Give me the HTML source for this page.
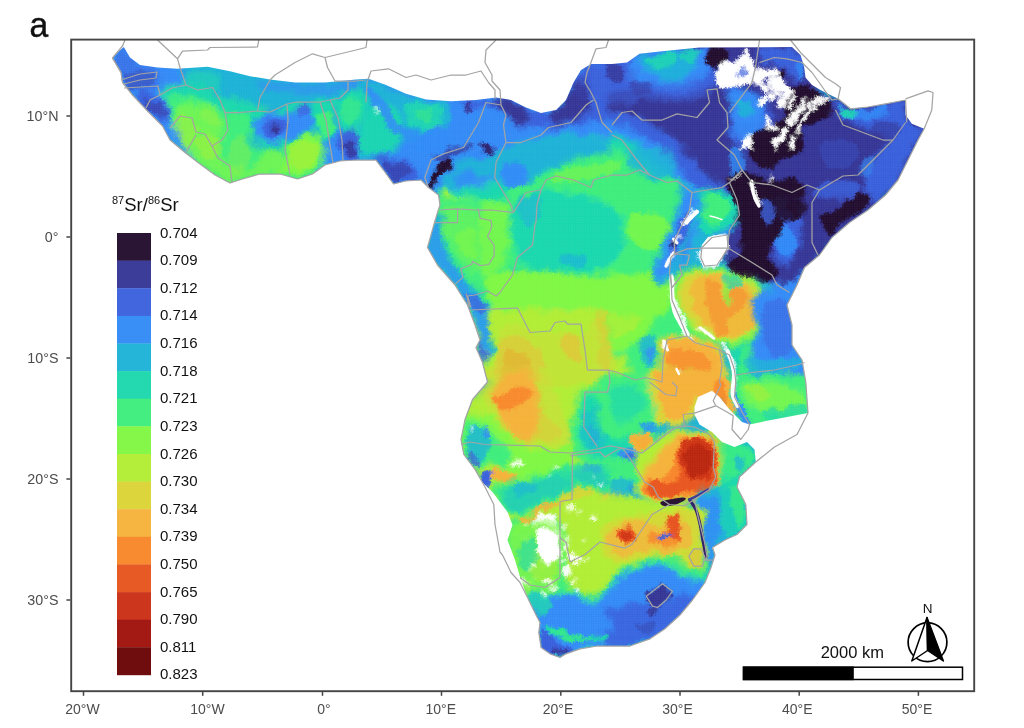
<!DOCTYPE html>
<html><head><meta charset="utf-8"><title>Sr isoscape</title>
<style>
html,body{margin:0;padding:0;background:#fff;}
body{width:1024px;height:728px;overflow:hidden;font-family:"Liberation Sans",sans-serif;}
svg{display:block;font-family:"Liberation Sans",sans-serif;}
</style></head><body>
<svg width="1024" height="728" viewBox="0 0 1024 728">
<defs>
<clipPath id="land"><path d="M112.5 58 L118 52 L123.8 47 L130 57.5 L140 65 L157.5 67.5 L177.5 68.8 L207.5 66.8 L230 71.2 L250 76.2 L270 79.5 L295 82.5 L325 82.5 L356 79.5 L368.5 78.8 L386 85 L406 93.8 L426 99.5 L451 101.2 L476 100 L496 97.5 L511 100 L526 107.5 L541 113 L556 110 L566 100 L573.5 82.5 L581 70 L591 64 L612 64 L627 62.5 L639.5 53.8 L662 51.2 L699.5 47.5 L792 47 L800.5 55 L804 66 L805.5 77.5 L812 85 L820.5 90 L838 98.8 L850.5 108.8 L868 107 L885.5 103.8 L905.5 100 L905.5 115 L911.8 123.8 L924.2 128.8 L918 140 L908 160 L898 180 L885.5 195 L868 210 L849.5 222.5 L832 237.5 L819.5 255 L804.5 267.5 L797 285 L787 305 L792 325 L792 345 L802 360 L805.8 382 L808 413 L787 417 L767 420.8 L749.5 424.5 L742 422 L729.5 409.5 L719.5 397 L712 390.8 L698 397 L694.5 407 L694.5 414.5 L699.5 424.5 L712 432 L722 442 L734.5 447 L747 442 L754.5 449.5 L755.8 462 L739.5 477 L737 487 L745.8 504.5 L747 524.5 L737 534.5 L725 540 L712.5 547.5 L715 555 L711 567.5 L705 582.5 L692.5 600 L680 615 L665 628.8 L650 638.8 L630 646 L615 646 L597.5 646 L580 648.8 L566 653.8 L560 657.5 L550 653.8 L541 647.5 L538.8 632.5 L540 622.5 L536 615 L527.5 597.5 L521 580 L515 560 L507.5 540 L512.5 525 L507.5 512 L492.5 492 L483 483 L475 469.5 L463.8 454.5 L461 439.5 L465 419.5 L472.5 399.5 L487.5 382 L482.5 362.5 L476 347.5 L480 340 L475 325 L467.5 305 L455 285 L437.5 265 L427.5 247.5 L433.8 225 L437.5 212.5 L440 205 L438.5 195 L428.5 187.5 L421 180 L406 181 L393.5 184 L383.5 170 L376 160 L356 160 L340 161 L325 165 L312.5 174 L297.5 179 L280 174 L260 174 L242.5 179 L230 183 L215 175 L200 164 L185 152.5 L170 140 L162.5 126 L147.5 111 L132.5 95 L122.5 82.5 L121 72.5Z"/></clipPath>
<clipPath id="frame"><rect x="71.2" y="39.6" width="903" height="651.6"/></clipPath>
<filter id="b1" x="-20%" y="-20%" width="140%" height="140%"><feGaussianBlur stdDeviation="5"/></filter>
<filter id="b2" x="-20%" y="-20%" width="140%" height="140%"><feGaussianBlur stdDeviation="2.5"/></filter>
<filter id="b3" x="-20%" y="-20%" width="140%" height="140%"><feGaussianBlur stdDeviation="1.1"/></filter>
<filter id="rough" x="0" y="0" width="100%" height="100%" filterUnits="userSpaceOnUse"><feTurbulence type="fractalNoise" baseFrequency="0.08" numOctaves="4" seed="7" result="n"/><feDisplacementMap in="SourceGraphic" in2="n" scale="11" xChannelSelector="R" yChannelSelector="G" result="d1"/><feTurbulence type="fractalNoise" baseFrequency="0.45" numOctaves="2" seed="3" result="n2"/><feDisplacementMap in="d1" in2="n2" scale="5" xChannelSelector="G" yChannelSelector="R"/></filter>
<pattern id="grid" width="2.3" height="2.3" patternUnits="userSpaceOnUse"><path d="M0 0.3H2.3M0.3 0V2.3" stroke="#f3f3f6" stroke-width="0.7" fill="none"/></pattern>
</defs>
<rect width="1024" height="728" fill="#fff"/>
<g clip-path="url(#frame)">
<g clip-path="url(#land)">
<rect x="100" y="40" width="840" height="630" fill="#25b5d8"/>
<g filter="url(#rough)"><g filter="url(#b1)"><path fill="#3a8ff7" d="M105 50 C107.5 42.5 117.5 37.5 130 40 C142.5 42.5 170.8 57 180 65 C189.2 73 187 83 185 88 C183 93 171.2 90 168 95 C164.8 100 164.3 110.5 166 118 C167.7 125.5 178.2 135.5 178 140 C177.8 144.5 171.3 149.7 165 145 C158.7 140.3 148.3 122 140 112 C131.7 102 120.8 95.3 115 85 C109.2 74.7 102.5 57.5 105 50Z"/><path fill="#45ee80" d="M167.5 88 C170.8 85.5 178.8 89.2 185 90 C191.2 90.8 199.2 90.8 205 93 C210.8 95.2 214.2 101 220 103 C225.8 105 233.3 103.8 240 105 C246.7 106.2 254.2 108 260 110 C265.8 112 273.7 114.7 275 117 C276.3 119.3 271.3 122 268 124 C264.7 126 258 126.3 255 129 C252 131.7 248.3 136.8 250 140 C251.7 143.2 259.2 147 265 148 C270.8 149 279.2 147.8 285 146 C290.8 144.2 294.2 139 300 137 C305.8 135 315.7 133 320 134 C324.3 135 325.7 137 326 143 C326.3 149 326.3 163 322 170 C317.7 177 307 183.3 300 185 C293 186.7 286.7 180.8 280 180 C273.3 179.2 266.2 179.2 260 180 C253.8 180.8 247.5 183.3 242.5 185 C237.5 186.7 235.4 191.2 230 190 C224.6 188.8 215.8 182 210 178 C204.2 174 199.7 169.8 195 166 C190.3 162.2 185.5 159.3 182 155 C178.5 150.7 176 145.4 174 140 C172 134.6 171.5 128.3 170 122.5 C168.5 116.7 165.4 110.8 165 105 C164.6 99.2 164.2 90.5 167.5 88Z"/><path fill="#3a8ff7" d="M325 110 C331 100.7 353.3 102.8 360 112 C366.7 121.2 368.3 155.7 365 165 C361.7 174.3 346.8 167.5 340 168 C333.2 168.5 326.5 177.7 324 168 C321.5 158.3 319 119.3 325 110Z"/><path fill="#3a8ff7" d="M356 75 C366.7 73.7 396 89.2 420 92 C444 94.8 476.7 89.8 500 92 C523.3 94.2 545.8 110.3 560 105 C574.2 99.7 561.7 70.8 585 60 C608.3 49.2 677.5 33.3 700 40 C722.5 46.7 730 87.5 720 100 C710 112.5 660 106.7 640 115 C620 123.3 620 138.3 600 150 C580 161.7 541.7 178.3 520 185 C498.3 191.7 483.3 187.5 470 190 C456.7 192.5 446.7 200 440 200 C433.3 200 436.7 192 430 190 C423.3 188 408.3 192.2 400 188 C391.7 183.8 380 171.3 380 165 C380 158.7 390 152.5 400 150 C410 147.5 432.5 155 440 150 C447.5 145 451.7 128.3 445 120 C438.3 111.7 414.8 103.3 400 100 C385.2 96.7 363.3 104.2 356 100 C348.7 95.8 345.3 76.3 356 75Z"/><path fill="#3c3c99" d="M600 100 C604.2 95.8 623.3 105 640 95 C656.7 85 673.3 49.2 700 40 C726.7 30.8 778.3 30.8 800 40 C821.7 49.2 808.3 85.8 830 95 C851.7 104.2 913.3 88.3 930 95 C946.7 101.7 935 120 930 135 C925 150 911.7 170.5 900 185 C888.3 199.5 872.5 210.3 860 222 C847.5 233.7 835 245.3 825 255 C815 264.7 807.5 274.2 800 280 C792.5 285.8 789.2 290 780 290 C770.8 290 752.5 285.8 745 280 C737.5 274.2 736.7 265.8 735 255 C733.3 244.2 737.5 225.8 735 215 C732.5 204.2 727.5 198.3 720 190 C712.5 181.7 700.8 174.2 690 165 C679.2 155.8 667.5 142.5 655 135 C642.5 127.5 624.2 125.8 615 120 C605.8 114.2 595.8 104.2 600 100Z"/><path fill="#24d9b0" d="M440 195 C448.3 184.2 466.7 188.3 480 185 C493.3 181.7 504.2 180.8 520 175 C535.8 169.2 559.7 156.2 575 150 C590.3 143.8 601.2 138.3 612 138 C622.8 137.7 631.3 141.3 640 148 C648.7 154.7 657.3 168.5 664 178 C670.7 187.5 675.7 194.7 680 205 C684.3 215.3 690 226.7 690 240 C690 253.3 686.7 275 680 285 C673.3 295 663.3 299.2 650 300 C636.7 300.8 618.3 292.5 600 290 C581.7 287.5 560 283.3 540 285 C520 286.7 494.2 299.2 480 300 C465.8 300.8 463.3 298.3 455 290 C446.7 281.7 432.5 265.8 430 250 C427.5 234.2 431.7 205.8 440 195Z"/><path fill="#45ee80" d="M450 270 C456.7 260.8 495 273.3 520 275 C545 276.7 576.7 277.5 600 280 C623.3 282.5 643.3 286.7 660 290 C676.7 293.3 692.5 291.7 700 300 C707.5 308.3 711.7 331.7 705 340 C698.3 348.3 677.5 351.7 660 350 C642.5 348.3 620 335 600 330 C580 325 560 320 540 320 C520 320 495 338.3 480 330 C465 321.7 443.3 279.2 450 270Z"/><path fill="#b4ee3a" d="M470 320 C477 314.2 498.3 310.8 520 310 C541.7 309.2 578.3 311.7 600 315 C621.7 318.3 640 319.2 650 330 C660 340.8 661.7 365 660 380 C658.3 395 650 405 640 420 C630 435 603.3 453.3 600 470 C596.7 486.7 605 511.7 620 520 C635 528.3 676.7 513.3 690 520 C703.3 526.7 706.7 550.8 700 560 C693.3 569.2 666.7 570 650 575 C633.3 580 615 585.8 600 590 C585 594.2 573.3 600 560 600 C546.7 600 530 600 520 590 C510 580 506.7 558.3 500 540 C493.3 521.7 487.5 496.7 480 480 C472.5 463.3 456.7 454.2 455 440 C453.3 425.8 464.2 405 470 395 C475.8 385 488.7 388.3 490 380 C491.3 371.7 481.3 355 478 345 C474.7 335 463 325.8 470 320Z"/><path fill="#3a8ff7" d="M760 275 C765.3 269.2 790.8 260.8 800 265 C809.2 269.2 812.5 279.2 815 300 C817.5 320.8 817.5 374.7 815 390 C812.5 405.3 805 397 800 392 C795 387 790 370.3 785 360 C780 349.7 772.8 340 770 330 C767.2 320 769.7 309.2 768 300 C766.3 290.8 754.7 280.8 760 275Z"/><path fill="#45ee80" d="M735 270 C745.8 271.7 758.3 270 765 280 C771.7 290 770.8 315 775 330 C779.2 345 784.2 360.8 790 370 C795.8 379.2 806.3 376.7 810 385 C813.7 393.3 823.7 413.3 812 420 C800.3 426.7 754.5 429.2 740 425 C725.5 420.8 725.8 407.5 725 395 C724.2 382.5 739.2 358.3 735 350 C730.8 341.7 709.2 353.3 700 345 C690.8 336.7 680 312.5 680 300 C680 287.5 690.8 275 700 270 C709.2 265 724.2 268.3 735 270Z"/><path fill="#3a8ff7" d="M530 605 C534.2 599.7 541.7 599.3 550 598 C558.3 596.7 572.2 596.2 580 597 C587.8 597.8 591.2 604.8 597 603 C602.8 601.2 609.5 591.3 615 586 C620.5 580.7 623.3 575.2 630 571 C636.7 566.8 646.7 563.2 655 561 C663.3 558.8 672.5 561.5 680 558 C687.5 554.5 693.3 549.7 700 540 C706.7 530.3 713.3 510 720 500 C726.7 490 733.3 480 740 480 C746.7 480 756.7 490 760 500 C763.3 510 765 527.5 760 540 C755 552.5 740 562.5 730 575 C720 587.5 711.7 603.3 700 615 C688.3 626.7 676.7 637.5 660 645 C643.3 652.5 620 656.7 600 660 C580 663.3 552.5 670 540 665 C527.5 660 526.7 640 525 630 C523.3 620 525.8 610.3 530 605Z"/></g>
<g filter="url(#b2)"><path fill="#4166dd" fill-opacity="0.55" d="M113.8 57.5 C114.2 52.5 119.8 46.5 123.8 47.5 C127.7 48.5 131.9 60 137.5 63.8 C143.1 67.5 154 66 157.5 70 C161 74 161.2 83.5 158.8 87.5 C156.2 91.5 147.7 93.3 142.5 93.8 C137.3 94.2 131 92.7 127.5 90 C124 87.3 123.5 82.9 121.2 77.5 C119 72.1 113.3 62.5 113.8 57.5Z"/></g>
<g filter="url(#b3)"><path fill="#3c3c99" fill-opacity="0.35" d="M123.8 72.5 C126.5 70.6 135 70.8 140 71.2 C145 71.7 152.1 72.7 153.8 75 C155.4 77.3 154 82.7 150 85 C146 87.3 134.4 89.2 130 88.8 C125.6 88.3 124.8 85.2 123.8 82.5 C122.7 79.8 121 74.4 123.8 72.5Z"/></g>
<g filter="url(#b2)"><path fill="#4166dd" d="M137.5 93.8 C138.3 90.8 147.5 91.5 152.5 93.8 C157.5 96 164.8 102.7 167.5 107.5 C170.2 112.3 170 119.6 168.8 122.5 C167.5 125.4 163.5 126.9 160 125 C156.5 123.1 151.2 116.5 147.5 111.2 C143.8 106 136.7 96.7 137.5 93.8Z"/></g>
<g filter="url(#b3)"><path fill="#3c3c99" fill-opacity="0.5" d="M146.2 101.2 C147.7 100.2 155.5 101.5 158.8 103.8 C162 106 165.7 112.9 165.5 115 C165.3 117.1 160.1 117.1 157.5 116.2 C154.9 115.4 151.9 112.5 150 110 C148.1 107.5 144.8 102.3 146.2 101.2Z"/></g>
<g filter="url(#b2)"><path fill="#3a8ff7" d="M160 122.5 C161.2 121.2 166.2 117.1 170 120 C173.8 122.9 178.8 133.8 182.5 140 C186.2 146.2 192.1 155.2 192.5 157.5 C192.9 159.8 188.8 156.7 185 153.8 C181.2 150.8 173.8 144.4 170 140 C166.2 135.6 164.2 130.4 162.5 127.5 C160.8 124.6 158.8 123.8 160 122.5Z"/><path fill="#24d9b0" fill-opacity="0.6" d="M182.5 73.8 C185.8 71.2 198.8 69.4 205 70 C211.2 70.6 217.9 74.2 220 77.5 C222.1 80.8 220.8 87.9 217.5 90 C214.2 92.1 205.4 90.8 200 90 C194.6 89.2 187.9 87.7 185 85 C182.1 82.3 179.2 76.2 182.5 73.8Z"/><path fill="#24d9b0" d="M166.2 86.2 C169.6 84.4 178.1 85.8 185 86.2 C191.9 86.7 201.2 86.7 207.5 88.8 C213.8 90.8 216.7 96.7 222.5 98.8 C228.3 100.8 235.8 100 242.5 101.2 C249.2 102.5 259.6 104 262.5 106.2 C265.4 108.5 263.8 114 260 115 C256.2 116 246.7 113.3 240 112.5 C233.3 111.7 226.7 112.5 220 110 C213.3 107.5 207.5 100 200 97.5 C192.5 95 180.8 95 175 95 C169.2 95 166.5 99 165 97.5 C163.5 96 162.9 88.1 166.2 86.2Z"/><path fill="#84f748" fill-opacity="0.7" d="M182.5 102.5 C187.5 100.8 198.8 102.9 205 105 C211.2 107.1 216.7 110.4 220 115 C223.3 119.6 225.4 126.7 225 132.5 C224.6 138.3 216.7 144.6 217.5 150 C218.3 155.4 224.6 161.7 230 165 C235.4 168.3 245 171.2 250 170 C255 168.8 255.8 160.8 260 157.5 C264.2 154.2 270.8 150 275 150 C279.2 150 282.5 153.8 285 157.5 C287.5 161.2 291.7 169.6 290 172.5 C288.3 175.4 280 174.6 275 175 C270 175.4 265.4 174.2 260 175 C254.6 175.8 247.5 178.8 242.5 180 C237.5 181.2 234.6 183.3 230 182.5 C225.4 181.7 220 178.1 215 175 C210 171.9 204.8 167.9 200 163.8 C195.2 159.6 190.2 154.8 186.2 150 C182.3 145.2 178.1 140.8 176.2 135 C174.4 129.2 174 120.4 175 115 C176 109.6 177.5 104.2 182.5 102.5Z"/><path fill="#84f748" d="M286.2 147.5 C288.3 142.1 294.8 139.6 300 137.5 C305.2 135.4 313.5 133.8 317.5 135 C321.5 136.2 323.3 140 323.8 145 C324.2 150 322.7 160.2 320 165 C317.3 169.8 311.2 171.7 307.5 173.8 C303.8 175.8 300.8 178.1 297.5 177.5 C294.2 176.9 289.4 175 287.5 170 C285.6 165 284.2 152.9 286.2 147.5Z"/></g>
<g filter="url(#b3)"><path fill="#b4ee3a" fill-opacity="0.35" d="M176.2 117.5 C178.1 114.2 184.2 113.8 187.5 115 C190.8 116.2 195 120.8 196.2 125 C197.5 129.2 196.9 136.2 195 140 C193.1 143.8 188.1 148.3 185 147.5 C181.9 146.7 177.7 140 176.2 135 C174.8 130 174.4 120.8 176.2 117.5Z"/><path fill="#b4ee3a" fill-opacity="0.4" d="M197.5 137.5 C200 135.4 208.3 133.3 212.5 135 C216.7 136.7 221.7 143.8 222.5 147.5 C223.3 151.2 220.4 155.8 217.5 157.5 C214.6 159.2 208.3 159.2 205 157.5 C201.7 155.8 198.8 150.8 197.5 147.5 C196.2 144.2 195 139.6 197.5 137.5Z"/><path fill="#b4ee3a" fill-opacity="0.3" d="M230 140 C232.9 136.2 241.7 135.4 245 137.5 C248.3 139.6 249.6 147.5 250 152.5 C250.4 157.5 250 164.2 247.5 167.5 C245 170.8 238.3 173.8 235 172.5 C231.7 171.2 228.3 165.4 227.5 160 C226.7 154.6 227.1 143.8 230 140Z"/><path fill="#b4ee3a" fill-opacity="0.5" d="M290 150 C292.1 145.8 300.4 143.3 305 142.5 C309.6 141.7 315.4 142.1 317.5 145 C319.6 147.9 319.6 155.8 317.5 160 C315.4 164.2 309.2 168.8 305 170 C300.8 171.2 295 170.8 292.5 167.5 C290 164.2 287.9 154.2 290 150Z"/><path fill="#b4ee3a" fill-opacity="0.25" d="M205 110 C207.9 110 215 112.5 217.5 115 C220 117.5 221.2 123.3 220 125 C218.8 126.7 213.3 126.7 210 125 C206.7 123.3 200.8 117.5 200 115 C199.2 112.5 202.1 110 205 110Z"/><path fill="#24d9b0" d="M250 122.5 C250.8 127.9 259.2 141.2 265 145 C270.8 148.8 279.2 146.7 285 145 C290.8 143.3 295.4 140 300 135 C304.6 130 311.7 120 312.5 115 C313.3 110 308.8 107.1 305 105 C301.2 102.9 295 101.2 290 102.5 C285 103.8 280 110.8 275 112.5 C270 114.2 264.2 110.8 260 112.5 C255.8 114.2 249.2 117.1 250 122.5Z"/></g>
<g filter="url(#b2)"><path fill="#3a8ff7" d="M260 117.5 C263.8 115 270 113.3 275 112.5 C280 111.7 285.8 113.3 290 112.5 C294.2 111.7 296.2 107.5 300 107.5 C303.8 107.5 310 109.6 312.5 112.5 C315 115.4 317.1 121.2 315 125 C312.9 128.8 304.2 132.5 300 135 C295.8 137.5 294.2 138.8 290 140 C285.8 141.2 280 142.9 275 142.5 C270 142.1 263.8 140 260 137.5 C256.2 135 252.5 130.8 252.5 127.5 C252.5 124.2 256.2 120 260 117.5Z"/></g>
<g filter="url(#b3)"><path fill="#4166dd" d="M265 122.5 C267.3 120.2 273.8 117.1 277.5 117.5 C281.2 117.9 286.2 122.1 287.5 125 C288.8 127.9 287.5 132.9 285 135 C282.5 137.1 276 138.1 272.5 137.5 C269 136.9 265 133.8 263.8 131.2 C262.5 128.8 262.7 124.8 265 122.5Z"/><ellipse fill="#3c3c99" cx="275.5" cy="128.5" rx="6" ry="4.5" transform="rotate(20 275.5 128.5)"/><path fill="#4166dd" fill-opacity="0.7" d="M297.5 106.2 C298.8 104.6 305.6 104.8 307.5 106.2 C309.4 107.7 310 113.3 308.8 115 C307.5 116.7 301.9 117.7 300 116.2 C298.1 114.8 296.2 107.9 297.5 106.2Z"/></g>
<g filter="url(#b2)"><path fill="#24d9b0" d="M312.5 102.5 C315.8 98.8 328.8 99.6 335 100 C341.2 100.4 349.2 101.2 350 105 C350.8 108.8 342.9 116.7 340 122.5 C337.1 128.3 335.8 137.5 332.5 140 C329.2 142.5 322.9 140.4 320 137.5 C317.1 134.6 316.2 128.3 315 122.5 C313.8 116.7 309.2 106.2 312.5 102.5Z"/></g>
<g filter="url(#b3)"><path fill="#45ee80" d="M317.5 115 C320 112.1 329.6 110.4 332.5 112.5 C335.4 114.6 336.2 123.3 335 127.5 C333.8 131.7 327.9 137.1 325 137.5 C322.1 137.9 318.8 133.8 317.5 130 C316.2 126.2 315 117.9 317.5 115Z"/></g>
<g filter="url(#b2)"><path fill="#3a8ff7" d="M332.5 110 C335.6 106.2 350.6 102.9 356 105 C361.4 107.1 363.5 113.3 365 122.5 C366.5 131.7 367.5 153.5 365 160 C362.5 166.5 355 161 350 161.2 C345 161.5 338.3 164 335 161.2 C331.7 158.5 329.6 150.6 330 145 C330.4 139.4 337.1 133.3 337.5 127.5 C337.9 121.7 329.4 113.8 332.5 110Z"/><path fill="#4166dd" d="M340 132.5 C342.9 129.6 352.2 126.2 356 127.5 C359.8 128.8 361.8 135 362.5 140 C363.2 145 362.9 154.6 360 157.5 C357.1 160.4 348.5 159.6 345 157.5 C341.5 155.4 339.6 149.2 338.8 145 C337.9 140.8 337.1 135.4 340 132.5Z"/></g>
<g filter="url(#b3)"><path fill="#3c3c99" fill-opacity="0.8" d="M346.2 138.8 C347.7 136 355.4 135.2 357.5 137.5 C359.6 139.8 360.2 149.8 358.8 152.5 C357.3 155.2 350.8 156 348.8 153.8 C346.7 151.5 344.8 141.5 346.2 138.8Z"/></g>
<g filter="url(#b2)"><path fill="#3a8ff7" fill-opacity="0.6" d="M260 80 C264.6 79.2 279.2 83.1 290 83.8 C300.8 84.4 314 84.4 325 83.8 C336 83.1 350.8 79 356 80 C361.2 81 361.2 87.7 356 90 C350.8 92.3 336 93.3 325 93.8 C314 94.2 300.4 93.3 290 92.5 C279.6 91.7 267.5 90.8 262.5 88.8 C257.5 86.7 255.4 80.8 260 80Z"/><path fill="#25b5d8" d="M356 82.5 C359.3 72.1 367.7 85 376 87.5 C384.3 90 395.6 95 406 97.5 C416.4 100 431.8 99.6 438.5 102.5 C445.2 105.4 446 110.4 446 115 C446 119.6 443.1 126.7 438.5 130 C433.9 133.3 424.8 133.3 418.5 135 C412.2 136.7 405.2 137.1 401 140 C396.8 142.9 398.5 150 393.5 152.5 C388.5 155 377.2 155.4 371 155 C364.8 154.6 358.5 162.1 356 150 C353.5 137.9 352.7 92.9 356 82.5Z"/><path fill="#24d9b0" fill-opacity="0.85" d="M356 102.5 C358.5 94.6 365.6 100.8 371 100 C376.4 99.2 382.7 97.1 388.5 97.5 C394.3 97.9 398.9 100.4 406 102.5 C413.1 104.6 425.2 107.1 431 110 C436.8 112.9 441 116.7 441 120 C441 123.3 436 128.8 431 130 C426 131.2 416.4 130 411 127.5 C405.6 125 403.5 117.1 398.5 115 C393.5 112.9 385.6 112.9 381 115 C376.4 117.1 371 123.3 371 127.5 C371 131.7 376.8 137.9 381 140 C385.2 142.1 393.9 138.3 396 140 C398.1 141.7 397.7 147.9 393.5 150 C389.3 152.1 377.2 152.9 371 152.5 C364.8 152.1 358.5 155.8 356 147.5 C353.5 139.2 353.5 110.4 356 102.5Z"/></g>
<g filter="url(#b3)"><path fill="#45ee80" fill-opacity="0.8" d="M356 115 C357.2 110.4 361.8 110.4 363.5 112.5 C365.2 114.6 366.4 122.9 366 127.5 C365.6 132.1 362.7 137.9 361 140 C359.3 142.1 356.8 144.2 356 140 C355.2 135.8 354.8 119.6 356 115Z"/><path fill="#84f748" fill-opacity="0.6" d="M423.5 120 C424.8 118.1 433.5 116.5 436 117.5 C438.5 118.5 439.8 124.4 438.5 126.2 C437.2 128.1 431 129.8 428.5 128.8 C426 127.7 422.2 121.9 423.5 120Z"/></g>
<g filter="url(#b2)"><path fill="#3a8ff7" d="M371 122.5 C373.1 118.8 381 117.5 386 117.5 C391 117.5 396.4 119.6 401 122.5 C405.6 125.4 408.5 133.3 413.5 135 C418.5 136.7 424.8 134.6 431 132.5 C437.2 130.4 443.9 124.2 451 122.5 C458.1 120.8 467.7 125.4 473.5 122.5 C479.3 119.6 482.2 106.2 486 105 C489.8 103.8 492.7 110 496 115 C499.3 120 506 129.2 506 135 C506 140.8 502.2 147.5 496 150 C489.8 152.5 476 148.8 468.5 150 C461 151.2 457.2 155.8 451 157.5 C444.8 159.2 436 157.1 431 160 C426 162.9 425.2 171.7 421 175 C416.8 178.3 412.7 182.9 406 180 C399.3 177.1 388.5 161.2 381 157.5 C373.5 153.8 362.2 160.4 361 157.5 C359.8 154.6 371.8 145.8 373.5 140 C375.2 134.2 368.9 126.2 371 122.5Z"/><path fill="#4166dd" d="M371 158.8 C372.2 156.7 384.3 156.5 391 157.5 C397.7 158.5 406 161.7 411 165 C416 168.3 421.8 174.6 421 177.5 C420.2 180.4 410.6 181.2 406 182.5 C401.4 183.8 397.2 187.1 393.5 185 C389.8 182.9 387.2 174.4 383.5 170 C379.8 165.6 369.8 160.8 371 158.8Z"/></g>
<g filter="url(#b3)"><path fill="#3c3c99" fill-opacity="0.55" d="M383.5 162.5 C385.4 160.8 394.1 161 398.5 162.5 C402.9 164 408.9 168.3 409.8 171.2 C410.6 174.2 406.2 178.1 403.5 180 C400.8 181.9 396.2 183.8 393.5 182.5 C390.8 181.2 388.9 175.8 387.2 172.5 C385.6 169.2 381.6 164.2 383.5 162.5Z"/></g>
<g filter="url(#b2)"><path fill="#25b5d8" d="M438.5 190 C441.8 183.3 453.1 165.4 461 160 C468.9 154.6 478.5 159.6 486 157.5 C493.5 155.4 498.5 150.4 506 147.5 C513.5 144.6 521.8 142.5 531 140 C540.2 137.5 552.7 133.3 561 132.5 C569.3 131.7 572.5 133.8 581 135 C589.5 136.2 606.8 135 612 140 C617.2 145 617.2 160.8 612 165 C606.8 169.2 590.3 164.2 581 165 C571.7 165.8 564.3 167.5 556 170 C547.7 172.5 537.7 176.7 531 180 C524.3 183.3 521.8 190 516 190 C510.2 190 502.7 182.5 496 180 C489.3 177.5 481.8 174.2 476 175 C470.2 175.8 465.2 182.5 461 185 C456.8 187.5 454.3 187.5 451 190 C447.7 192.5 443.1 200 441 200 C438.9 200 435.2 196.7 438.5 190Z"/><path fill="#3a8ff7" fill-opacity="0.8" d="M453.5 175 C454.3 172.5 462.2 170 466 170 C469.8 170 474.8 172.7 476 175 C477.2 177.3 476 182.1 473.5 183.8 C471 185.4 464.3 186.5 461 185 C457.7 183.5 452.7 177.5 453.5 175Z"/><path fill="#3a8ff7" fill-opacity="0.9" d="M503.5 167.5 C505.6 164.8 512.2 162.9 516 163.8 C519.8 164.6 524.8 169 526 172.5 C527.2 176 526 182.5 523.5 185 C521 187.5 514.3 188.3 511 187.5 C507.7 186.7 504.8 183.3 503.5 180 C502.2 176.7 501.4 170.2 503.5 167.5Z"/><path fill="#4166dd" d="M461 101.2 C464.8 100 477.7 100.4 486 100 C494.3 99.6 502.7 97.1 511 98.8 C519.3 100.4 529.3 107.7 536 110 C542.7 112.3 545.2 115.8 551 112.5 C556.8 109.2 566 97.1 571 90 C576 82.9 576.8 74.4 581 70 C585.2 65.6 590.8 64.8 596 63.8 C601.2 62.7 609.3 55.2 612 63.8 C614.7 72.3 615.5 105.2 612 115 C608.5 124.8 597.8 120.8 591 122.5 C584.2 124.2 577.7 124.2 571 125 C564.3 125.8 557.7 127.1 551 127.5 C544.3 127.9 536.8 127.9 531 127.5 C525.2 127.1 520.2 127.1 516 125 C511.8 122.9 510.2 118.3 506 115 C501.8 111.7 496.4 105.8 491 105 C485.6 104.2 478.1 109.6 473.5 110 C468.9 110.4 465.6 109 463.5 107.5 C461.4 106 457.2 102.5 461 101.2Z"/><path fill="#3c3c99" d="M496 98.8 C497.9 97.7 506 98.1 511 100 C516 101.9 522.7 106.7 526 110 C529.3 113.3 532.2 117.7 531 120 C529.8 122.3 522.7 124.6 518.5 123.8 C514.3 122.9 509.1 117.9 506 115 C502.9 112.1 501.4 109 499.8 106.2 C498.1 103.5 494.1 99.8 496 98.8Z"/><path fill="#3c3c99" d="M551 113.8 C553.1 109.4 564.3 103.1 568.5 97.5 C572.7 91.9 572.7 83.3 576 80 C579.3 76.7 585.6 74.6 588.5 77.5 C591.4 80.4 593.9 91.7 593.5 97.5 C593.1 103.3 590.2 108.3 586 112.5 C581.8 116.7 573.5 120.6 568.5 122.5 C563.5 124.4 558.9 125.2 556 123.8 C553.1 122.3 548.9 118.1 551 113.8Z"/></g>
<g filter="url(#b3)"><path fill="#3c3c99" d="M463.5 103.8 C464.7 103.1 470 104 471 105 C472 106 470.9 109.4 469.8 110 C468.6 110.6 465 109.8 464 108.8 C463 107.7 462.3 104.4 463.5 103.8Z"/><path fill="#2a1535" d="M429 180 C429.6 177.6 431.7 173.5 433.5 171.2 C435.3 169 438.1 168.2 439.8 166.2 C441.4 164.3 441.7 161 443.5 159.5 C445.3 158 449.2 156.8 450.5 157.5 C451.8 158.2 452.2 161.7 451.5 163.8 C450.8 165.8 448 167.9 446.5 170 C445 172.1 443.9 174.6 442.2 176.2 C440.6 177.9 438 178.2 436.5 180 C435 181.8 434.6 186.1 433.5 187 C432.4 187.9 430.5 186.7 429.8 185.5 C429 184.3 428.4 182.4 429 180Z"/><path fill="#3c3c99" fill-opacity="0.7" d="M431 157.5 C431.4 155.8 438.5 151.7 443.5 150 C448.5 148.3 456 148.1 461 147.5 C466 146.9 472.7 145.6 473.5 146.2 C474.3 146.9 469.3 149.8 466 151.2 C462.7 152.7 457.7 153.5 453.5 155 C449.3 156.5 444.8 159.6 441 160 C437.2 160.4 430.6 159.2 431 157.5Z"/><path fill="#2a1535" d="M481 144.5 C482 143.9 488.5 145.3 491 146.2 C493.5 147.2 495.8 148.8 496 150 C496.2 151.2 494.1 153.8 492.2 153.8 C490.4 153.8 486.6 151.5 484.8 150 C482.9 148.5 480 145.1 481 144.5Z"/><path fill="#3c3c99" fill-opacity="0.6" d="M479.8 143.8 C481.2 142.7 489.3 144 492.2 145 C495.2 146 497.2 148.3 497.2 150 C497.2 151.7 494.5 154.8 492.2 155 C490 155.2 485.6 153.1 483.5 151.2 C481.4 149.4 478.3 144.8 479.8 143.8Z"/></g>
<g filter="url(#b2)"><path fill="#24d9b0" d="M441 190 C444.3 185.8 453.5 193.3 461 195 C468.5 196.7 478.5 200.8 486 200 C493.5 199.2 499.3 192.9 506 190 C512.7 187.1 518.5 185.8 526 182.5 C533.5 179.2 541.8 172.9 551 170 C560.2 167.1 570.8 167.1 581 165 C591.2 162.9 606.8 153.3 612 157.5 C617.2 161.7 617.2 184.6 612 190 C606.8 195.4 592 190 581 190 C570 190 554.3 188.3 546 190 C537.7 191.7 536 195.8 531 200 C526 204.2 523.5 211.7 516 215 C508.5 218.3 498.5 219.2 486 220 C473.5 220.8 448.5 225 441 220 C433.5 215 437.7 194.2 441 190Z"/><path fill="#45ee80" d="M506 192.5 C508.5 187.5 523.5 183.3 531 180 C538.5 176.7 543.5 175 551 172.5 C558.5 170 565.8 167.1 576 165 C586.2 162.9 606 150 612 160 C618 170 628.8 214.2 612 225 C595.2 235.8 527 227.5 511 225 C495 222.5 516.8 215.4 516 210 C515.2 204.6 503.5 197.5 506 192.5Z"/><path fill="#84f748" d="M441 192.5 C443.5 187.5 449.3 193.3 456 195 C462.7 196.7 472.7 200.8 481 202.5 C489.3 204.2 500.2 203.3 506 205 C511.8 206.7 515.2 209.2 516 212.5 C516.8 215.8 523.5 222.9 511 225 C498.5 227.1 452.7 230.4 441 225 C429.3 219.6 438.5 197.5 441 192.5Z"/></g>
<g filter="url(#b3)"><path fill="#b4ee3a" fill-opacity="0.6" d="M442.2 195 C443.5 191 449.1 192.9 451 196.2 C452.9 199.6 454.8 211 453.5 215 C452.2 219 445.4 223.3 443.5 220 C441.6 216.7 441 199 442.2 195Z"/></g>
<g filter="url(#b2)"><path fill="#4166dd" d="M612 63.8 C616.6 54.8 624.9 56.5 639.5 53.8 C654.1 51 686.6 48.5 699.5 47.5 C712.4 46.5 714.1 40.4 717 47.5 C719.9 54.6 718.7 80.4 717 90 C715.3 99.6 712 102.5 707 105 C702 107.5 694.5 105.8 687 105 C679.5 104.2 670.3 100 662 100 C653.7 100 645.3 103.8 637 105 C628.7 106.2 616.2 114.4 612 107.5 C607.8 100.6 607.4 72.7 612 63.8Z"/><path fill="#3a8ff7" d="M627 65 C629.1 60.8 630.3 57.7 642 55 C653.7 52.3 686.2 47.1 697 48.8 C707.8 50.4 707.4 59 707 65 C706.6 71 699.9 80.8 694.5 85 C689.1 89.2 682 89.6 674.5 90 C667 90.4 657 89.2 649.5 87.5 C642 85.8 633.2 83.8 629.5 80 C625.8 76.2 624.9 69.2 627 65Z"/><path fill="#25b5d8" fill-opacity="0.9" d="M639.5 57.5 C642.8 55 652.8 53.8 662 52.5 C671.2 51.2 689.1 47.9 694.5 50 C699.9 52.1 696.2 60.4 694.5 65 C692.8 69.6 689.1 74.6 684.5 77.5 C679.9 80.4 672.4 83.3 667 82.5 C661.6 81.7 656.2 75 652 72.5 C647.8 70 644.1 70 642 67.5 C639.9 65 636.2 60 639.5 57.5Z"/></g>
<g filter="url(#b3)"><path fill="#24d9b0" fill-opacity="0.8" d="M647 58.8 C649.1 57.1 657 55.6 662 55 C667 54.4 674.9 53.5 677 55 C679.1 56.5 677.4 61.7 674.5 63.8 C671.6 65.8 663.7 67.3 659.5 67.5 C655.3 67.7 651.6 66.5 649.5 65 C647.4 63.5 644.9 60.4 647 58.8Z"/><path fill="#24d9b0" fill-opacity="0.7" d="M682 52.5 C683.7 50.4 694.1 49.2 697 50 C699.9 50.8 701.2 55.4 699.5 57.5 C697.8 59.6 689.9 63.3 687 62.5 C684.1 61.7 680.3 54.6 682 52.5Z"/><path fill="#4166dd" d="M612 65 C614.1 62.9 622 65.4 624.5 67.5 C627 69.6 629.1 75.4 627 77.5 C624.9 79.6 614.5 82.1 612 80 C609.5 77.9 609.9 67.1 612 65Z"/></g>
<g filter="url(#b2)"><path fill="#3c3c99" d="M607 93.8 C612 89.8 630.3 90.8 642 91.2 C653.7 91.7 666.2 96.9 677 96.2 C687.8 95.6 699.5 89.6 707 87.5 C714.5 85.4 717.8 82.1 722 83.8 C726.2 85.4 730.8 91 732 97.5 C733.2 104 727.8 114.6 729.5 122.5 C731.2 130.4 738.2 137.9 742 145 C745.8 152.1 751.2 159.2 752 165 C752.8 170.8 750.8 176.2 747 180 C743.2 183.8 735.3 187.5 729.5 187.5 C723.7 187.5 717.8 183.8 712 180 C706.2 176.2 700.3 170.8 694.5 165 C688.7 159.2 683.2 150.8 677 145 C670.8 139.2 664.5 134.6 657 130 C649.5 125.4 639.5 120 632 117.5 C624.5 115 616.2 119 612 115 C607.8 111 602 97.7 607 93.8Z"/><path fill="#4166dd" d="M612 112.5 C615.3 110.8 624.5 112.5 632 115 C639.5 117.5 649.5 122.9 657 127.5 C664.5 132.1 670.8 136.7 677 142.5 C683.2 148.3 688.7 156.2 694.5 162.5 C700.3 168.8 706.2 175.4 712 180 C717.8 184.6 727 186.2 729.5 190 C732 193.8 730.8 201.7 727 202.5 C723.2 203.3 713.7 198.8 707 195 C700.3 191.2 693.7 186.2 687 180 C680.3 173.8 673.7 164.2 667 157.5 C660.3 150.8 653.7 145 647 140 C640.3 135 632.8 130 627 127.5 C621.2 125 614.5 127.5 612 125 C609.5 122.5 608.7 114.2 612 112.5Z"/><path fill="#3a8ff7" d="M612 123.8 C614.5 122.7 621.2 123.8 627 126.2 C632.8 128.8 640.3 133.8 647 138.8 C653.7 143.8 660.3 149.6 667 156.2 C673.7 162.9 680.3 172.3 687 178.8 C693.7 185.2 700.3 191 707 195 C713.7 199 723.2 198 727 202.5 C730.8 207 732 218.8 729.5 222 C727 225.2 717.8 225.7 712 222 C706.2 218.3 700.3 207 694.5 200 C688.7 193 683.2 187.1 677 180 C670.8 172.9 663.7 163.8 657 157.5 C650.3 151.2 644.5 146.7 637 142.5 C629.5 138.3 616.2 135.6 612 132.5 C607.8 129.4 609.5 124.8 612 123.8Z"/><path fill="#25b5d8" d="M612 131.2 C616.2 131.5 629.5 137.1 637 141.2 C644.5 145.4 650.3 150 657 156.2 C663.7 162.5 670.8 171.5 677 178.8 C683.2 186 688.7 192.8 694.5 200 C700.3 207.2 711.6 218.3 712 222 C712.4 225.7 702 225.2 697 222 C692 218.8 687.4 209.5 682 202.5 C676.6 195.5 670.3 187.1 664.5 180 C658.7 172.9 653.2 165.8 647 160 C640.8 154.2 632.8 148.3 627 145 C621.2 141.7 614.5 142.3 612 140 C609.5 137.7 607.8 131 612 131.2Z"/><path fill="#24d9b0" d="M612 138.8 C614.5 137.7 621.2 140.4 627 143.8 C632.8 147.1 640.8 152.9 647 158.8 C653.2 164.6 658.7 171.7 664.5 178.8 C670.3 185.8 676.6 194 682 201.2 C687.4 208.5 697 218.5 697 222 C697 225.5 686.6 225.2 682 222 C677.4 218.8 674.5 209.1 669.5 202.5 C664.5 195.9 657.8 188.8 652 182.5 C646.2 176.2 641.2 170.4 634.5 165 C627.8 159.6 615.8 154.4 612 150 C608.2 145.6 609.5 139.8 612 138.8Z"/><path fill="#45ee80" d="M612 148.8 C615.8 139 627.8 158.3 634.5 163.8 C641.2 169.2 646.2 175 652 181.2 C657.8 187.5 664.1 194.5 669.5 201.2 C674.9 208 694.1 218.5 684.5 222 C674.9 225.5 624.1 234.2 612 222 C599.9 209.8 608.2 158.5 612 148.8Z"/><path fill="#4166dd" d="M722 85 C724.1 82.9 735.3 85.4 742 87.5 C748.7 89.6 757 92.9 762 97.5 C767 102.1 771.2 108.8 772 115 C772.8 121.2 770.3 129.6 767 135 C763.7 140.4 757 145.8 752 147.5 C747 149.2 741 148.8 737 145 C733 141.2 729.5 132.5 728.2 125 C727 117.5 730.5 106.7 729.5 100 C728.5 93.3 719.9 87.1 722 85Z"/><path fill="#3a8ff7" fill-opacity="0.85" d="M732 95 C734.5 90.2 742 92.1 747 93.8 C752 95.4 759.1 100.2 762 105 C764.9 109.8 765.8 116.7 764.5 122.5 C763.2 128.3 758.7 137.1 754.5 140 C750.3 142.9 743.2 142.9 739.5 140 C735.8 137.1 733.2 130 732 122.5 C730.8 115 729.5 99.8 732 95Z"/><path fill="#3a8ff7" d="M729.1 91.6 C731.2 88.5 737.7 89.8 741.6 90.1 C745.6 90.3 748.9 91.1 752.6 93.2 C756.2 95.3 762.2 99.2 763.6 102.6 C764.9 106 762.8 110.4 760.4 113.6 C758.1 116.7 753.4 120.6 749.5 121.4 C745.6 122.2 740.3 120.3 736.9 118.2 C733.6 116.2 730.4 113.3 729.1 108.9 C727.8 104.4 727 94.8 729.1 91.6Z"/></g>
<g filter="url(#b3)"><path fill="#25b5d8" fill-opacity="0.9" d="M735.4 102.6 C736.2 100 741.6 98.9 744.8 99.5 C747.9 100 753.1 103.4 754.2 105.7 C755.2 108.1 753.4 112 751 113.6 C748.7 115.1 742.7 116.9 740.1 115.1 C737.5 113.3 734.6 105.2 735.4 102.6Z"/><path fill="#3a8ff7" fill-opacity="0.8" d="M729.5 147.5 C731.6 144.2 739.5 146.2 742 150 C744.5 153.8 745.3 165 744.5 170 C743.7 175 739.5 180 737 180 C734.5 180 730.8 175.4 729.5 170 C728.2 164.6 727.4 150.8 729.5 147.5Z"/></g>
<g filter="url(#b2)"><path fill="#4166dd" d="M758.9 47.8 C763.8 45.3 783.4 46.3 790.2 47 C796.9 47.8 797.2 49.8 799.5 52.5 C801.9 55.3 803.3 59.6 804.2 63.5 C805.2 67.4 805.8 73.1 805 76 C804.2 78.9 802 80.7 799.5 80.7 C797.1 80.7 792.8 78.1 790.2 76 C787.5 73.9 787 70.3 783.9 68.2 C780.8 66.1 775.3 64.5 771.4 63.5 C767.5 62.4 762.5 64.5 760.4 61.9 C758.3 59.3 753.9 50.3 758.9 47.8Z"/></g>
<g filter="url(#b3)"><path fill="#3a8ff7" fill-opacity="0.8" d="M798 63.5 C798.8 61.4 803.1 63 804.2 65 C805.4 67.1 805.8 73.9 805 76 C804.2 78.1 800.7 79.6 799.5 77.6 C798.4 75.5 797.2 65.6 798 63.5Z"/></g>
<g filter="url(#b2)"><path fill="#4166dd" d="M835.5 100 C837.2 99.2 845.1 108.8 850.5 110 C855.9 111.2 862.2 108.4 868 107.5 C873.8 106.6 879.2 105.7 885.5 104.5 C891.8 103.3 902.1 98.8 905.5 100.5 C908.9 102.2 905 111.1 906 115 C907 118.9 908.7 121.5 911.8 123.8 C914.8 126 923.2 126 924.2 128.8 C925.3 131.5 920.7 134.8 918 140 C915.3 145.2 911.3 153.3 908 160 C904.7 166.7 901.8 174.2 898 180 C894.2 185.8 889.7 190.8 885.5 195 C881.3 199.2 876.8 207.5 873 205 C869.2 202.5 863 187.5 863 180 C863 172.5 868.8 166.7 873 160 C877.2 153.3 887.2 144.2 888 140 C888.8 135.8 883 137.5 878 135 C873 132.5 864.2 128.3 858 125 C851.8 121.7 844.2 119.2 840.5 115 C836.8 110.8 833.8 100.8 835.5 100Z"/><path fill="#3c3c99" fill-opacity="0.7" d="M843 122.5 C850.5 123.3 855.9 124.6 863 127.5 C870.1 130.4 883.4 135 885.5 140 C887.6 145 879.7 151.7 875.5 157.5 C871.3 163.3 865.9 171.2 860.5 175 C855.1 178.8 850.1 178.3 843 180 C835.9 181.7 825.1 185 818 185 C810.9 185 803 186.7 800.5 180 C798 173.3 800.1 154.6 803 145 C805.9 135.4 811.3 126.2 818 122.5 C824.7 118.8 835.5 121.7 843 122.5Z"/></g>
<g filter="url(#b3)"><path fill="#3a8ff7" fill-opacity="0.8" d="M838 103.8 C839.2 103.1 845.5 110.4 850.5 111.2 C855.5 112.1 862.6 109.7 868 108.8 C873.4 107.8 879.7 104.9 883 105.5 C886.3 106.1 889.7 110.1 888 112.5 C886.3 114.9 878.4 118.8 873 120 C867.6 121.2 860.5 120.8 855.5 120 C850.5 119.2 845.9 117.7 843 115 C840.1 112.3 836.8 104.4 838 103.8Z"/><path fill="#24d9b0" fill-opacity="0.9" d="M840.5 107.5 C841.8 106.9 847.6 108.8 850.5 110 C853.4 111.2 857.6 113.7 858 115 C858.4 116.3 855.5 118.2 853 118 C850.5 117.8 845.1 115.5 843 113.8 C840.9 112 839.2 108.1 840.5 107.5Z"/><path fill="#4166dd" fill-opacity="0.3" d="M820.5 145 C823.8 141.7 836.8 139.6 843 140 C849.2 140.4 856.3 143.3 858 147.5 C859.7 151.7 857.2 161.2 853 165 C848.8 168.8 838 170.8 833 170 C828 169.2 825.1 164.2 823 160 C820.9 155.8 817.2 148.3 820.5 145Z"/><path fill="#3c3c99" fill-opacity="0.6" d="M875.5 122.5 C880.5 120.4 895.1 119.6 898 122.5 C900.9 125.4 895.9 136.2 893 140 C890.1 143.8 884.7 145.8 880.5 145 C876.3 144.2 868.8 138.8 868 135 C867.2 131.2 870.5 124.6 875.5 122.5Z"/><path fill="#4166dd" fill-opacity="0.8" d="M818 187.5 C822.6 182.5 835.9 179.6 843 180 C850.1 180.4 859.2 185.8 860.5 190 C861.8 194.2 855.5 200.8 850.5 205 C845.5 209.2 836.3 214.2 830.5 215 C824.7 215.8 817.6 214.6 815.5 210 C813.4 205.4 813.4 192.5 818 187.5Z"/><path fill="#3a8ff7" fill-opacity="0.6" d="M863 160 C864.7 156.7 871.8 155 873 157.5 C874.2 160 872.2 171.7 870.5 175 C868.8 178.3 864.2 180 863 177.5 C861.8 175 861.3 163.3 863 160Z"/><path fill="#2a1535" d="M707.2 49.4 C708.9 47.4 713.5 47 716.6 47 C719.7 47 724.6 47.2 726 49.4 C727.4 51.6 726.3 57.2 725.2 60.3 C724.2 63.5 722.2 67.1 719.7 68.2 C717.3 69.2 712.6 68.2 710.3 66.6 C708.1 65 707 61.6 706.4 58.8 C705.9 55.9 705.5 51.3 707.2 49.4Z"/><path fill="#2a1535" d="M775.3 72.1 C776.1 70.8 780.9 70.4 782.3 71.3 C783.8 72.2 784.7 76.3 783.9 77.6 C783.1 78.9 779.1 80 777.6 79.1 C776.2 78.2 774.5 73.4 775.3 72.1Z"/><path fill="#2a1535" d="M787 86.9 C789.4 85 795.9 84.6 799.5 84.6 C803.2 84.6 805 85.4 808.9 86.9 C812.8 88.5 819.2 91.4 823 94 C826.8 96.6 831.1 99.3 831.6 102.6 C832.1 105.9 828.9 110.2 826.2 113.6 C823.4 116.9 818.6 120.6 815.2 122.9 C811.8 125.3 808.7 125.6 805.8 127.6 C802.9 129.7 798.5 132.9 798 135.5 C797.5 138.1 802.4 140.2 802.7 143.3 C802.9 146.4 803.7 152.2 799.5 153.9 C795.4 155.7 784.9 153.9 777.6 153.9 C770.3 153.9 759.9 155.7 755.7 153.9 C751.6 152.2 752.1 146.4 752.6 143.3 C753.1 140.2 755.2 137.8 758.9 135.5 C762.5 133.1 770.3 131.5 774.5 129.2 C778.7 126.9 782.3 124.5 783.9 121.4 C785.5 118.2 783.6 114.6 783.9 110.4 C784.2 106.2 784.9 100.3 785.5 96.3 C786 92.4 784.7 88.9 787 86.9Z"/><path fill="#3c3c99" fill-opacity="0.5" d="M808.9 127.6 C812.1 123.5 823.3 116.2 827.7 115.1 C832.1 114.1 835 118.2 835.5 121.4 C836.1 124.5 833.7 130.5 830.8 133.9 C828 137.3 822 140.7 818.3 141.7 C814.7 142.8 810.5 142.5 808.9 140.2 C807.4 137.8 805.8 131.8 808.9 127.6Z"/><path fill="#2a1535" d="M729.5 175 C732.4 172.5 739.9 171.7 747 172.5 C754.1 173.3 764.5 178.8 772 180 C779.5 181.2 786.2 178.8 792 180 C797.8 181.2 805.3 183.8 807 187.5 C808.7 191.2 805.3 197.9 802 202.5 C798.7 207.1 792 211.8 787 215 C782 218.2 780.3 220.8 772 222 C763.7 223.2 743.2 225.7 737 222 C730.8 218.3 735.8 205.8 734.5 200 C733.2 194.2 730.3 191.7 729.5 187.5 C728.7 183.3 726.6 177.5 729.5 175Z"/><path fill="#2a1535" d="M752 135 C756 130.8 765.3 127.1 772 125 C778.7 122.9 787 120.8 792 122.5 C797 124.2 801.2 130 802 135 C802.8 140 800.3 148.3 797 152.5 C793.7 156.7 787 157.1 782 160 C777 162.9 771.2 169.2 767 170 C762.8 170.8 760.1 168.3 757 165 C753.9 161.7 749.1 155 748.2 150 C747.4 145 748 139.2 752 135Z"/><path fill="#3c3c99" fill-opacity="0.7" d="M742 195 C742.8 190.8 748.7 189.2 752 190 C755.3 190.8 760.8 195.8 762 200 C763.2 204.2 762 212.5 759.5 215 C757 217.5 749.9 218.3 747 215 C744.1 211.7 741.2 199.2 742 195Z"/><path fill="#3a8ff7" fill-opacity="0.7" d="M738.2 200 C738.9 196.7 743.9 193.3 745.8 195 C747.6 196.7 750.1 206.7 749.5 210 C748.9 213.3 743.9 216.7 742 215 C740.1 213.3 737.6 203.3 738.2 200Z"/><path fill="#2a1535" fill-opacity="0.8" d="M810.5 110 C811.8 107.5 821.8 104.6 825.5 105 C829.2 105.4 834.2 110 833 112.5 C831.8 115 821.8 120.4 818 120 C814.2 119.6 809.2 112.5 810.5 110Z"/><path fill="#ffffff" d="M718.2 69.7 C719.7 66.1 722.9 60.3 726 58.8 C729.1 57.2 733.8 61.6 736.9 60.3 C740.1 59 742.2 51.5 744.8 51 C747.4 50.4 750.8 54.6 752.6 57.2 C754.4 59.8 755.7 62.7 755.7 66.6 C755.7 70.5 754.7 77.6 752.6 80.7 C750.5 83.8 746.3 84.3 743.2 85.4 C740.1 86.4 737.5 86.4 733.8 86.9 C730.2 87.5 724.2 89.6 721.3 88.5 C718.4 87.5 717.1 83.8 716.6 80.7 C716.1 77.6 716.6 73.4 718.2 69.7Z"/><path fill="#4166dd" fill-opacity="0.7" d="M736.9 69.7 C738 68.2 743.2 67.1 744.8 68.2 C746.3 69.2 747.4 74.4 746.3 76 C745.3 77.6 740.1 78.6 738.5 77.6 C736.9 76.5 735.9 71.3 736.9 69.7Z"/><ellipse fill="#ffffff" cx="761.2" cy="76" rx="7" ry="9.9" transform="rotate(20 761.2 76)"/><ellipse fill="#ffffff" cx="771.4" cy="72.9" rx="5.9" ry="6.6"/><ellipse fill="#ffffff" cx="777.6" cy="85.4" rx="8.2" ry="6.6" transform="rotate(30 777.6 85.4)"/><ellipse fill="#ffffff" cx="765.1" cy="88.5" rx="5.9" ry="4.4"/><ellipse fill="#ffffff" cx="785.5" cy="91.6" rx="5.9" ry="7.7" transform="rotate(10 785.5 91.6)"/><ellipse fill="#ffffff" cx="771.4" cy="96.3" rx="7" ry="4.4" transform="rotate(-20 771.4 96.3)"/><ellipse fill="#ffffff" cx="782.3" cy="102.6" rx="4.2" ry="6.6" transform="rotate(20 782.3 102.6)"/><ellipse fill="#ffffff" cx="762" cy="101" rx="2.8" ry="5.5" transform="rotate(30 762 101)"/><ellipse fill="#ffffff" cx="802.7" cy="105.7" rx="2.3" ry="8.8" transform="rotate(15 802.7 105.7)"/><ellipse fill="#ffffff" cx="808.9" cy="107.3" rx="1.9" ry="7.7" transform="rotate(10 808.9 107.3)"/><ellipse fill="#ffffff" cx="815.2" cy="104.2" rx="2.3" ry="7.7" transform="rotate(20 815.2 104.2)"/><ellipse fill="#ffffff" cx="796.4" cy="113.6" rx="2.8" ry="6.6" transform="rotate(25 796.4 113.6)"/><ellipse fill="#ffffff" cx="791.7" cy="102.6" rx="2.3" ry="5.5"/><ellipse fill="#ffffff" cx="821.5" cy="101" rx="2.8" ry="4.4" transform="rotate(-30 821.5 101)"/><ellipse fill="#ffffff" cx="826.2" cy="97.9" rx="3.5" ry="2.2" transform="rotate(-30 826.2 97.9)"/><ellipse fill="#ffffff" cx="810.5" cy="79.1" rx="1.9" ry="2.2"/><ellipse fill="#ffffff" cx="805.8" cy="118.2" rx="2.3" ry="6.6" transform="rotate(30 805.8 118.2)"/><ellipse fill="#ffffff" cx="790.2" cy="121.4" rx="3.3" ry="5.5" transform="rotate(30 790.2 121.4)"/><ellipse fill="#ffffff" cx="799.5" cy="127.6" rx="2.3" ry="5.5" transform="rotate(35 799.5 127.6)"/><ellipse fill="#ffffff" cx="769.8" cy="125.3" rx="6.6" ry="3.1" transform="rotate(30 769.8 125.3)"/><ellipse fill="#ffffff" cx="768.2" cy="120.6" rx="2.3" ry="4.4" transform="rotate(-20 768.2 120.6)"/><ellipse fill="#ffffff" cx="778.4" cy="140.2" rx="3.8" ry="9.9" transform="rotate(20 778.4 140.2)"/><ellipse fill="#ffffff" cx="793.3" cy="141.7" rx="3.3" ry="6.6" transform="rotate(25 793.3 141.7)"/><ellipse fill="#ffffff" cx="747.9" cy="141.7" rx="6.6" ry="6.6"/><ellipse fill="#ffffff" cx="743.2" cy="148" rx="3.3" ry="2.2"/><ellipse fill="#ffffff" cx="783.9" cy="133.9" rx="2.8" ry="4.4" transform="rotate(30 783.9 133.9)"/><path fill="none" stroke="#ffffff" stroke-width="2.2" stroke-linecap="round" stroke-linejoin="round" d="M752 182.5 C752.2 184.2 752.4 189 753.2 192.5 C754.1 196 756.4 201.9 757 203.8"/><ellipse fill="#ffffff" cx="772" cy="178.8" rx="2.5" ry="1.5"/></g>
<g filter="url(#b2)"><path fill="#45ee80" d="M437.5 200 C444.2 196.7 462.9 198.3 475 200 C487.1 201.7 502.9 205 510 210 C517.1 215 516.7 222.5 517.5 230 C518.3 237.5 517.1 247.5 515 255 C512.9 262.5 504.2 270.4 505 275 C505.8 279.6 512.5 282.1 520 282.5 C527.5 282.9 538.3 277.5 550 277.5 C561.7 277.5 577.5 282.9 590 282.5 C602.5 282.1 614 277.1 625 275 C636 272.9 650.8 265 656 270 C661.2 275 665.3 300 656 305 C646.7 310 617.7 301.7 600 300 C582.3 298.3 566.7 295 550 295 C533.3 295 512.5 298.3 500 300 C487.5 301.7 481.2 307.9 475 305 C468.8 302.1 467.5 289.6 462.5 282.5 C457.5 275.4 450.4 268.8 445 262.5 C439.6 256.2 431.7 252.1 430 245 C428.3 237.9 433.8 227.5 435 220 C436.2 212.5 430.8 203.3 437.5 200Z"/><path fill="#84f748" fill-opacity="0.45" d="M442.5 207.5 C448.3 204.6 467.1 207.5 475 210 C482.9 212.5 486.7 216.7 490 222.5 C493.3 228.3 494.6 237.9 495 245 C495.4 252.1 495.8 260.4 492.5 265 C489.2 269.6 480 272.9 475 272.5 C470 272.1 466.7 267.5 462.5 262.5 C458.3 257.5 453.8 248.3 450 242.5 C446.2 236.7 441.2 233.3 440 227.5 C438.8 221.7 436.7 210.4 442.5 207.5Z"/></g>
<g filter="url(#b3)"><path fill="#84f748" fill-opacity="0.6" d="M457.5 232.5 C460.2 230.6 468.8 228.3 472.5 230 C476.2 231.7 479.6 237.9 480 242.5 C480.4 247.1 477.9 255.8 475 257.5 C472.1 259.2 465.6 255.2 462.5 252.5 C459.4 249.8 457.1 244.6 456.2 241.2 C455.4 237.9 454.8 234.4 457.5 232.5Z"/></g>
<g filter="url(#b2)"><path fill="#25b5d8" fill-opacity="0.8" d="M512.5 207.5 C515.8 202.5 525.4 200.8 530 200 C534.6 199.2 539.2 199.2 540 202.5 C540.8 205.8 537.5 214.2 535 220 C532.5 225.8 528.3 232.5 525 237.5 C521.7 242.5 517.5 251.2 515 250 C512.5 248.8 510.4 237.1 510 230 C509.6 222.9 509.2 212.5 512.5 207.5Z"/></g>
<g filter="url(#b3)"><path fill="#3a8ff7" fill-opacity="0.7" d="M520 210 C521.2 206.2 528.3 203.3 530 205 C531.7 206.7 531.2 216.2 530 220 C528.8 223.8 524.2 229.2 522.5 227.5 C520.8 225.8 518.8 213.8 520 210Z"/></g>
<g filter="url(#b2)"><path fill="#45ee80" fill-opacity="0.6" d="M590 220 C594.6 216.7 609 215 620 215 C631 215 650 214.2 656 220 C662 225.8 661.2 243.8 656 250 C650.8 256.2 634.3 257.5 625 257.5 C615.7 257.5 605.4 253.8 600 250 C594.6 246.2 594.2 240 592.5 235 C590.8 230 585.4 223.3 590 220Z"/></g>
<g filter="url(#b3)"><path fill="#25b5d8" fill-opacity="0.8" d="M562.5 257.5 C564.4 255.6 571.2 253.8 575 255 C578.8 256.2 585 262.5 585 265 C585 267.5 578.5 269.8 575 270 C571.5 270.2 565.8 268.3 563.8 266.2 C561.7 264.2 560.6 259.4 562.5 257.5Z"/></g>
<g filter="url(#b2)"><path fill="#25b5d8" d="M433.8 215 C436.7 210 442.3 213.8 443.8 217.5 C445.2 221.2 441.5 230.8 442.5 237.5 C443.5 244.2 446.2 250.8 450 257.5 C453.8 264.2 460 271.2 465 277.5 C470 283.8 476.2 288.3 480 295 C483.8 301.7 485 310 487.5 317.5 C490 325 492.1 333.8 495 340 C497.9 346.2 505 351.7 505 355 C505 358.3 498.3 360.8 495 360 C491.7 359.2 488.3 355.8 485 350 C481.7 344.2 477.9 332.5 475 325 C472.1 317.5 470.8 311.7 467.5 305 C464.2 298.3 460 291.7 455 285 C450 278.3 442.3 271.2 437.5 265 C432.7 258.8 426.9 255.8 426.2 247.5 C425.6 239.2 430.8 220 433.8 215Z"/></g>
<g filter="url(#b3)"><path fill="#3a8ff7" fill-opacity="0.55" d="M435 225 C437.3 221.7 440.2 224.6 441.2 227.5 C442.3 230.4 439.8 236.7 441.2 242.5 C442.7 248.3 445.2 254.6 450 262.5 C454.8 270.4 464.2 282.9 470 290 C475.8 297.1 481.7 298.3 485 305 C488.3 311.7 489.6 320.8 490 330 C490.4 339.2 489.2 358.3 487.5 360 C485.8 361.7 482.1 345.8 480 340 C477.9 334.2 477.1 330.8 475 325 C472.9 319.2 470.8 311.7 467.5 305 C464.2 298.3 460 291.7 455 285 C450 278.3 442.1 271.2 437.5 265 C432.9 258.8 427.9 254.2 427.5 247.5 C427.1 240.8 432.7 228.3 435 225Z"/><path fill="#4166dd" fill-opacity="0.7" d="M467.5 295 C468.3 293.3 477.1 297.5 480 300 C482.9 302.5 485.8 308.3 485 310 C484.2 311.7 477.9 312.5 475 310 C472.1 307.5 466.7 296.7 467.5 295Z"/><path fill="#4166dd" fill-opacity="0.8" d="M477.5 340 C478.1 338.3 482.3 341.2 483.8 345 C485.2 348.8 486.9 360.8 486.2 362.5 C485.6 364.2 481.5 358.8 480 355 C478.5 351.2 476.9 341.7 477.5 340Z"/></g>
<g filter="url(#b2)"><path fill="#84f748" d="M495 285 C500.8 280.8 514.2 280 525 280 C535.8 280 547.5 283.8 560 285 C572.5 286.2 584 287.9 600 287.5 C616 287.1 646.7 277.5 656 282.5 C665.3 287.5 663.2 312.5 656 317.5 C648.8 322.5 626 314.2 612.5 312.5 C599 310.8 587.1 307.9 575 307.5 C562.9 307.1 551.7 309.2 540 310 C528.3 310.8 513.3 313.3 505 312.5 C496.7 311.7 491.7 309.6 490 305 C488.3 300.4 489.2 289.2 495 285Z"/><path fill="#b4ee3a" d="M492.5 310 C496.2 306.2 502.9 307.5 512.5 307.5 C522.1 307.5 537.1 310 550 310 C562.9 310 577.5 306.7 590 307.5 C602.5 308.3 616.7 311.2 625 315 C633.3 318.8 638.3 323.3 640 330 C641.7 336.7 637.5 346.3 635 355 C632.5 363.7 649.2 377.5 625 382 C600.8 386.5 511.7 387.3 490 382 C468.3 376.7 495 358.7 495 350 C495 341.3 490.4 336.7 490 330 C489.6 323.3 488.8 313.8 492.5 310Z"/></g>
<g filter="url(#b3)"><path fill="#dcd53c" fill-opacity="0.35" d="M500 330 C503.8 325 513.3 324.2 520 325 C526.7 325.8 533.3 334.2 540 335 C546.7 335.8 553.3 330 560 330 C566.7 330 574.2 336.7 580 335 C585.8 333.3 589.6 322.9 595 320 C600.4 317.1 608.8 312.5 612.5 317.5 C616.2 322.5 618.8 339.2 617.5 350 C616.2 360.8 625.4 376.7 605 382 C584.6 387.3 512.9 386.5 495 382 C477.1 377.5 496.7 363.7 497.5 355 C498.3 346.3 496.2 335 500 330Z"/><path fill="#f5b540" fill-opacity="0.4" d="M500 340 C503.3 335.8 511.7 334.2 517.5 335 C523.3 335.8 530.8 340 535 345 C539.2 350 542.5 358.8 542.5 365 C542.5 371.2 542.9 379.2 535 382 C527.1 384.8 501.2 385.7 495 382 C488.8 378.3 496.7 367 497.5 360 C498.3 353 496.7 344.2 500 340Z"/><path fill="#f88a30" fill-opacity="0.3" d="M505 355 C507.5 349.7 513.3 349.2 517.5 350 C521.7 350.8 527.5 355.8 530 360 C532.5 364.2 534.2 371.3 532.5 375 C530.8 378.7 525 380.8 520 382 C515 383.2 505 386.5 502.5 382 C500 377.5 502.5 360.3 505 355Z"/><path fill="#f5b540" fill-opacity="0.5" d="M562.5 336.2 C564.6 333.8 571.9 333.1 575 335 C578.1 336.9 580.8 343.3 581.2 347.5 C581.7 351.7 579.8 357.9 577.5 360 C575.2 362.1 570 361.7 567.5 360 C565 358.3 563.3 354 562.5 350 C561.7 346 560.4 338.8 562.5 336.2Z"/><path fill="#f5b540" fill-opacity="0.3" d="M596.2 312.5 C598.3 310 604.4 307.9 607.5 310 C610.6 312.1 614.2 318.3 615 325 C615.8 331.7 613.8 342.5 612.5 350 C611.2 357.5 610 367.5 607.5 370 C605 372.5 598.8 370 597.5 365 C596.2 360 600.4 346.7 600 340 C599.6 333.3 595.6 329.6 595 325 C594.4 320.4 594.2 315 596.2 312.5Z"/></g>
<g filter="url(#b2)"><path fill="#45ee80" d="M625 325 C630.2 317.5 650.8 301.7 656 310 C661.2 318.3 659.5 364.2 656 375 C652.5 385.8 640.2 378.3 635 375 C629.8 371.7 626.7 363.3 625 355 C623.3 346.7 619.8 332.5 625 325Z"/></g>
<g filter="url(#b3)"><path fill="#25b5d8" fill-opacity="0.8" d="M640 340 C641.5 336.7 647.3 335 650 335 C652.7 335 655 335 656 340 C657 345 657.6 360.8 656 365 C654.4 369.2 648.7 366.7 646.2 365 C643.8 363.3 642.3 359.2 641.2 355 C640.2 350.8 638.5 343.3 640 340Z"/><path fill="#3a8ff7" fill-opacity="0.7" d="M646.2 350 C647 347.7 651.2 345.8 652.5 347.5 C653.8 349.2 654.5 357.7 653.8 360 C653 362.3 649.2 362.9 648 361.2 C646.8 359.6 645.5 352.3 646.2 350Z"/></g>
<g filter="url(#b2)"><path fill="#45ee80" d="M612 200 C620.3 175 652.4 193.8 662 200 C671.6 206.2 669.5 225 669.5 237.5 C669.5 250 664.9 263.8 662 275 C659.1 286.2 656.2 294.2 652 305 C647.8 315.8 643.7 332.5 637 340 C630.3 347.5 616.2 373.3 612 350 C607.8 326.7 603.7 225 612 200Z"/><path fill="#84f748" d="M612 270 C617 255.8 633.7 263.3 642 265 C650.3 266.7 659.1 273.3 662 280 C664.9 286.7 662.4 295.8 659.5 305 C656.6 314.2 652.4 327.5 644.5 335 C636.6 342.5 617.4 360.8 612 350 C606.6 339.2 607 284.2 612 270Z"/></g>
<g filter="url(#b3)"><path fill="#b4ee3a" fill-opacity="0.7" d="M612 282.5 C615.8 273.3 628.2 277.9 634.5 280 C640.8 282.1 648.2 288.3 649.5 295 C650.8 301.7 646.6 313.3 642 320 C637.4 326.7 627 332.5 622 335 C617 337.5 613.7 343.8 612 335 C610.3 326.2 608.2 291.7 612 282.5Z"/></g>
<g filter="url(#b2)"><path fill="#24d9b0" fill-opacity="0.8" d="M612 200 C621.2 194.2 656.2 197.5 667 200 C677.8 202.5 677.8 209.6 677 215 C676.2 220.4 667.8 228.3 662 232.5 C656.2 236.7 650.3 239.6 642 240 C633.7 240.4 617 241.7 612 235 C607 228.3 602.8 205.8 612 200Z"/><path fill="#25b5d8" d="M667 200 C672.8 195.8 694.5 196.7 702 200 C709.5 203.3 711.2 213.3 712 220 C712.8 226.7 709.9 232.5 707 240 C704.1 247.5 699.5 257.9 694.5 265 C689.5 272.1 682.4 280.8 677 282.5 C671.6 284.2 664.9 280.4 662 275 C659.1 269.6 658.7 258.3 659.5 250 C660.3 241.7 665.8 233.3 667 225 C668.2 216.7 661.2 204.2 667 200Z"/><path fill="#3a8ff7" d="M674.5 210 C678.2 205.8 690.3 202.9 694.5 205 C698.7 207.1 699.9 216.2 699.5 222.5 C699.1 228.8 694.5 235.8 692 242.5 C689.5 249.2 688.2 257.9 684.5 262.5 C680.8 267.1 672.6 272.1 669.5 270 C666.4 267.9 665.3 256.7 665.8 250 C666.2 243.3 670.5 236.7 672 230 C673.5 223.3 670.8 214.2 674.5 210Z"/></g>
<g filter="url(#b3)"><path fill="#4166dd" fill-opacity="0.8" d="M675.8 230 C678.5 226.2 684.7 221.2 687 222.5 C689.3 223.8 690.3 232.1 689.5 237.5 C688.7 242.9 684.9 251.2 682 255 C679.1 258.8 673.9 261.7 672 260 C670.1 258.3 670.1 250 670.8 245 C671.4 240 673 233.8 675.8 230Z"/><path fill="#24d9b0" d="M697 207.5 C701.2 202.5 724.1 196.7 729.5 200 C734.9 203.3 731.6 221.7 729.5 227.5 C727.4 233.3 721.2 234.6 717 235 C712.8 235.4 707.8 234.6 704.5 230 C701.2 225.4 692.8 212.5 697 207.5Z"/><path fill="#45ee80" fill-opacity="0.8" d="M707 210 C709.1 206.7 721.6 205 724.5 207.5 C727.4 210 726.6 221.7 724.5 225 C722.4 228.3 714.9 230 712 227.5 C709.1 225 704.9 213.3 707 210Z"/></g>
<g filter="url(#b2)"><path fill="#3c3c99" d="M732 200 C754.7 195 845.3 197.9 868 200 C890.7 202.1 871.1 208.5 868 212.5 C864.9 216.5 855.5 219.6 849.5 223.8 C843.5 227.9 837 232.3 832 237.5 C827 242.7 823.7 250 819.5 255 C815.3 260 811.6 262.9 807 267.5 C802.4 272.1 797.8 279.6 792 282.5 C786.2 285.4 778.7 286.2 772 285 C765.3 283.8 759.1 277.9 752 275 C744.9 272.1 734.5 271.7 729.5 267.5 C724.5 263.3 721.6 256.2 722 250 C722.4 243.8 730.3 238.3 732 230 C733.7 221.7 709.3 205 732 200Z"/><path fill="#4166dd" d="M772 215 C774.5 210.4 787 208.3 792 210 C797 211.7 801.2 218.3 802 225 C802.8 231.7 799.5 243.3 797 250 C794.5 256.7 790.8 263.3 787 265 C783.2 266.7 776.2 264.6 774.5 260 C772.8 255.4 777.4 245 777 237.5 C776.6 230 769.5 219.6 772 215Z"/></g>
<g filter="url(#b3)"><path fill="#3a8ff7" fill-opacity="0.8" d="M779.5 230 C781.2 226.2 787 222.9 789.5 225 C792 227.1 794.9 237.5 794.5 242.5 C794.1 247.5 789.5 254.2 787 255 C784.5 255.8 780.8 251.7 779.5 247.5 C778.2 243.3 777.8 233.8 779.5 230Z"/><path fill="#2a1535" d="M737 200 C740.3 195 756.2 198.3 762 200 C767.8 201.7 768.7 205.4 772 210 C775.3 214.6 782 222.1 782 227.5 C782 232.9 775.3 238.3 772 242.5 C768.7 246.7 762 249.2 762 252.5 C762 255.8 769.5 258.8 772 262.5 C774.5 266.2 778.7 271.7 777 275 C775.3 278.3 767.8 282.1 762 282.5 C756.2 282.9 747.4 280 742 277.5 C736.6 275 731.2 270.8 729.5 267.5 C727.8 264.2 729.1 260.4 732 257.5 C734.9 254.6 745.3 254.6 747 250 C748.7 245.4 743.7 238.3 742 230 C740.3 221.7 733.7 205 737 200Z"/><path fill="#2a1535" fill-opacity="0.9" d="M787 200 C789.9 198.8 804.5 202.5 807 205 C809.5 207.5 804.9 213.8 802 215 C799.1 216.2 792 215 789.5 212.5 C787 210 784.1 201.2 787 200Z"/><path fill="#3c3c99" fill-opacity="0.6" d="M807 205 C809.5 201.2 824.1 200 827 202.5 C829.9 205 827 216.2 824.5 220 C822 223.8 814.9 227.5 812 225 C809.1 222.5 804.5 208.8 807 205Z"/><path fill="#3a8ff7" fill-opacity="0.8" d="M714.5 227.5 C716.6 225.4 727 223.8 729.5 225 C732 226.2 731.6 232.9 729.5 235 C727.4 237.1 719.5 238.8 717 237.5 C714.5 236.2 712.4 229.6 714.5 227.5Z"/></g>
<g filter="url(#b2)"><path fill="#4166dd" d="M807 267.5 C810.8 263.1 818.7 255 819.5 256.2 C820.3 257.5 814.9 270.2 812 275 C809.1 279.8 804.5 283.8 802 285 C799.5 286.2 796.2 285.4 797 282.5 C797.8 279.6 803.2 271.9 807 267.5Z"/><path fill="#3a8ff7" d="M772 287.5 C777 284.6 786.2 285.6 792 282.5 C797.8 279.4 805.3 267.5 807 268.8 C808.7 270 804.5 283.5 802 290 C799.5 296.5 793.2 300.8 792 307.5 C790.8 314.2 793.7 322.9 794.5 330 C795.3 337.1 794.9 344.6 797 350 C799.1 355.4 804.9 357.2 807 362.5 C809.1 367.8 812.8 378.8 809.5 382 C806.2 385.2 793.2 387.3 787 382 C780.8 376.7 775.3 360.3 772 350 C768.7 339.7 768.7 328.3 767 320 C765.3 311.7 761.2 305.4 762 300 C762.8 294.6 767 290.4 772 287.5Z"/><path fill="#25b5d8" d="M752 282.5 C754.1 277.1 769.5 282.9 772 287.5 C774.5 292.1 767 301.2 767 310 C767 318.8 768.7 328 772 340 C775.3 352 788.7 375 787 382 C785.3 389 767 387.3 762 382 C757 376.7 757.4 360.3 757 350 C756.6 339.7 760.3 331.2 759.5 320 C758.7 308.8 749.9 287.9 752 282.5Z"/><path fill="#24d9b0" d="M737 340 C740.3 331.3 752 328.3 757 330 C762 331.7 762.8 341.3 767 350 C771.2 358.7 787 376.7 782 382 C777 387.3 744.5 389 737 382 C729.5 375 733.7 348.7 737 340Z"/></g>
<g filter="url(#b3)"><path fill="#45ee80" fill-opacity="0.8" d="M742 350 C744.5 343.8 752.8 342.5 757 345 C761.2 347.5 766.2 358.8 767 365 C767.8 371.2 766.2 379.2 762 382 C757.8 384.8 745.3 387.3 742 382 C738.7 376.7 739.5 356.2 742 350Z"/></g>
<g filter="url(#b2)"><path fill="#84f748" d="M677 275 C681.6 269.6 692.8 267.9 702 267.5 C711.2 267.1 722.4 269.6 732 272.5 C741.6 275.4 754.1 278.8 759.5 285 C764.9 291.2 764.9 301.7 764.5 310 C764.1 318.3 761.6 329.2 757 335 C752.4 340.8 744.5 344.2 737 345 C729.5 345.8 720.3 343.3 712 340 C703.7 336.7 693.2 331.7 687 325 C680.8 318.3 676.2 308.3 674.5 300 C672.8 291.7 672.4 280.4 677 275Z"/><path fill="#dcd53c" d="M684.5 277.5 C688.7 272.7 697 271.7 704.5 271.2 C712 270.8 721.2 272.3 729.5 275 C737.8 277.7 749.5 281.7 754.5 287.5 C759.5 293.3 759.9 302.9 759.5 310 C759.1 317.1 756.6 325 752 330 C747.4 335 738.7 339.2 732 340 C725.3 340.8 719.1 338.3 712 335 C704.9 331.7 694.9 325.8 689.5 320 C684.1 314.2 680.3 307.1 679.5 300 C678.7 292.9 680.3 282.3 684.5 277.5Z"/></g>
<g filter="url(#b3)"><path fill="#f5b540" fill-opacity="0.8" d="M694.5 277.5 C697.8 274 706.2 273.3 712 273.8 C717.8 274.2 723.7 278.1 729.5 280 C735.3 281.9 742.8 281.7 747 285 C751.2 288.3 752.8 294.6 754.5 300 C756.2 305.4 758.2 312.1 757 317.5 C755.8 322.9 751.6 329.2 747 332.5 C742.4 335.8 735.3 337.9 729.5 337.5 C723.7 337.1 717.4 333.8 712 330 C706.6 326.2 700.3 320.8 697 315 C693.7 309.2 692.4 301.2 692 295 C691.6 288.8 691.2 281 694.5 277.5Z"/><path fill="#f88a30" fill-opacity="0.55" d="M704.5 277.5 C706.2 275.8 714.1 279.2 717 282.5 C719.9 285.8 719.5 296.7 722 297.5 C724.5 298.3 727.8 288.3 732 287.5 C736.2 286.7 744.9 289.2 747 292.5 C749.1 295.8 747.4 303.3 744.5 307.5 C741.6 311.7 732.4 313.3 729.5 317.5 C726.6 321.7 729.1 329.6 727 332.5 C724.9 335.4 719.5 337.1 717 335 C714.5 332.9 714.1 325 712 320 C709.9 315 705.3 309.6 704.5 305 C703.7 300.4 707 297.1 707 292.5 C707 287.9 702.8 279.2 704.5 277.5Z"/><path fill="#24d9b0" fill-opacity="0.7" d="M722 275 C723.2 272.9 733.7 273.3 737 275 C740.3 276.7 743.2 282.9 742 285 C740.8 287.1 732.8 289.2 729.5 287.5 C726.2 285.8 720.8 277.1 722 275Z"/><path fill="#84f748" fill-opacity="0.7" d="M722 285 C722.6 281.2 727.8 280 729.5 282.5 C731.2 285 732.6 296.2 732 300 C731.4 303.8 727.4 307.5 725.8 305 C724.1 302.5 721.4 288.8 722 285Z"/></g>
<g filter="url(#b2)"><path fill="#dcd53c" d="M659.5 340 C663.7 335.8 677.4 334.2 687 335 C696.6 335.8 710.8 340.4 717 345 C723.2 349.6 723.7 356.3 724.5 362.5 C725.3 368.7 732.8 378.8 722 382 C711.2 385.2 669.5 385.7 659.5 382 C649.5 378.3 662 367 662 360 C662 353 655.3 344.2 659.5 340Z"/></g>
<g filter="url(#b3)"><path fill="#f5b540" d="M664.5 342.5 C668 339 679.1 337.9 687 338.8 C694.9 339.6 706.6 343.5 712 347.5 C717.4 351.5 718.7 356.8 719.5 362.5 C720.3 368.2 726.4 378.8 717 382 C707.6 385.2 671.8 385.7 663.2 382 C654.7 378.3 665.5 366.6 665.8 360 C666 353.4 661 346 664.5 342.5Z"/><path fill="#f88a30" fill-opacity="0.7" d="M669.5 350 C674.1 345.1 687.4 350.4 694.5 352.5 C701.6 354.6 709.9 358.8 712 362.5 C714.1 366.2 711.2 371.8 707 375 C702.8 378.2 693.7 380.8 687 382 C680.3 383.2 669.9 387.3 667 382 C664.1 376.7 664.9 354.9 669.5 350Z"/><path fill="#ffffff" d="M701.5 248 C703.4 244.6 707.8 239.7 712 237.5 C716.2 235.3 724.2 233.2 727 235 C729.8 236.8 729.2 244.2 728.5 248 C727.8 251.8 724.4 255.1 722.5 258 C720.6 260.9 720 264 717 265.5 C714 267 707.2 268 704.5 266.8 C701.8 265.5 701 261.1 700.5 258 C700 254.9 699.6 251.4 701.5 248Z"/><path fill="none" stroke="#ffffff" stroke-width="2" stroke-linecap="round" stroke-linejoin="round" d="M694.5 212.5 C693.2 213.8 689.5 216.7 687 220 C684.5 223.3 681.6 228.8 679.5 232.5 C677.4 236.2 675.3 240.8 674.5 242.5"/><path fill="none" stroke="#ffffff" stroke-width="2" stroke-linecap="round" stroke-linejoin="round" d="M672 245 C671.4 247.1 669.3 254 668.2 257.5 C667.2 261 666.2 264.8 665.8 266.2"/><path fill="none" stroke="#ffffff" stroke-width="2.6" stroke-linecap="round" stroke-linejoin="round" d="M671.5 277.5 C671.8 281.2 671.7 293.3 673.2 300 C674.8 306.7 678.5 312.1 680.8 317.5 C683 322.9 685.1 328.8 687 332.5 C688.9 336.2 691.2 338.8 692 340"/><path fill="none" stroke="#ffffff" stroke-width="2" stroke-linecap="round" stroke-linejoin="round" d="M699.5 327.5 L712 336.2"/><path fill="none" stroke="#ffffff" stroke-width="2.6" stroke-linecap="round" stroke-linejoin="round" d="M722 345 C723.2 346.2 727.4 348.3 729.5 352.5 C731.6 356.7 733.7 365.1 734.5 370 C735.3 374.9 734.5 380 734.5 382"/><ellipse fill="#ffffff" cx="665.8" cy="345" rx="2.5" ry="4" transform="rotate(20 665.8 345)"/><ellipse fill="#ffffff" cx="678.2" cy="371.2" rx="2" ry="3.5" transform="rotate(20 678.2 371.2)"/></g>
<g filter="url(#b2)"><path fill="#dcd53c" fill-opacity="0.4" d="M482.5 372 C489.2 367.8 509.6 367 520 367 C530.4 367 539.2 367.8 545 372 C550.8 376.2 551.7 384.5 555 392 C558.3 399.5 562.1 409.1 565 417 C567.9 424.9 575 434.5 572.5 439.5 C570 444.5 557.9 446.6 550 447 C542.1 447.4 532.5 444.5 525 442 C517.5 439.5 510.8 437 505 432 C499.2 427 494.2 418.7 490 412 C485.8 405.3 481.2 398.7 480 392 C478.8 385.3 475.8 376.2 482.5 372Z"/><path fill="#f5b540" d="M492.5 389.5 C494.6 384.1 502.5 377.8 507.5 374.5 C512.5 371.2 517.9 368.2 522.5 369.5 C527.1 370.8 532.1 375.8 535 382 C537.9 388.2 539.6 399.5 540 407 C540.4 414.5 539.2 421.2 537.5 427 C535.8 432.8 533.8 440.3 530 442 C526.2 443.7 519.6 440.3 515 437 C510.4 433.7 505.8 427 502.5 422 C499.2 417 496.7 412.4 495 407 C493.3 401.6 490.4 394.9 492.5 389.5Z"/></g>
<g filter="url(#b3)"><path fill="#f88a30" fill-opacity="0.9" d="M495 397 C496.9 394.7 503.3 393.7 507.5 392 C511.7 390.3 516.2 387.4 520 387 C523.8 386.6 528.8 387.4 530 389.5 C531.2 391.6 529.6 396.6 527.5 399.5 C525.4 402.4 521.2 405.3 517.5 407 C513.8 408.7 508.5 409.7 505 409.5 C501.5 409.3 497.9 407.8 496.2 405.8 C494.6 403.7 493.1 399.3 495 397Z"/><path fill="#f5b540" fill-opacity="0.3" d="M525 412 C528.3 409.5 544.2 412.8 550 417 C555.8 421.2 560.8 432.8 560 437 C559.2 441.2 550 442.8 545 442 C540 441.2 533.3 437 530 432 C526.7 427 521.7 414.5 525 412Z"/></g>
<g filter="url(#b2)"><path fill="#45ee80" d="M580 392 C585.8 387.4 599.2 387 610 387 C620.8 387 636.7 387.8 645 392 C653.3 396.2 658.3 404.5 660 412 C661.7 419.5 658.3 429.5 655 437 C651.7 444.5 645.8 451.6 640 457 C634.2 462.4 627.5 467.8 620 469.5 C612.5 471.2 602.5 469.1 595 467 C587.5 464.9 579.2 462 575 457 C570.8 452 570 444.1 570 437 C570 429.9 573.3 422 575 414.5 C576.7 407 574.2 396.6 580 392Z"/><path fill="#24d9b0" d="M585 397 C590 392.8 601.7 392 610 392 C618.3 392 629.2 392.8 635 397 C640.8 401.2 645 409.5 645 417 C645 424.5 640 435.3 635 442 C630 448.7 621.7 454.5 615 457 C608.3 459.5 600.8 459.5 595 457 C589.2 454.5 582.5 448.7 580 442 C577.5 435.3 579.2 424.5 580 417 C580.8 409.5 580 401.2 585 397Z"/></g>
<g filter="url(#b3)"><path fill="#25b5d8" fill-opacity="0.45" d="M582.5 417 C585 412 590.4 406.2 595 407 C599.6 407.8 608.3 415.8 610 422 C611.7 428.2 607.9 439.9 605 444.5 C602.1 449.1 596.7 450.8 592.5 449.5 C588.3 448.2 581.7 442.4 580 437 C578.3 431.6 580 422 582.5 417Z"/><path fill="#3a8ff7" fill-opacity="0.3" d="M587.5 427 C587.9 423.7 592.9 422.4 595 424.5 C597.1 426.6 600.4 436.2 600 439.5 C599.6 442.8 594.6 446.6 592.5 444.5 C590.4 442.4 587.1 430.3 587.5 427Z"/><path fill="#3a8ff7" d="M635 423.2 C637.9 421.6 651.5 420.8 655 422 C658.5 423.2 659.2 429.1 656.2 430.8 C653.3 432.4 641 433.2 637.5 432 C634 430.8 632.1 424.9 635 423.2Z"/><path fill="#3a8ff7" fill-opacity="0.9" d="M620 449.5 C622.5 447.8 637.1 449.9 640 452 C642.9 454.1 640 460.3 637.5 462 C635 463.7 627.9 464.1 625 462 C622.1 459.9 617.5 451.2 620 449.5Z"/><path fill="#4166dd" fill-opacity="0.8" d="M627.5 455.8 C628.8 454.7 635 454.7 636.2 455.8 C637.5 456.8 636.2 461 635 462 C633.8 463 630 463 628.8 462 C627.5 461 626.2 456.8 627.5 455.8Z"/><path fill="#84f748" fill-opacity="0.8" d="M640 392 C644.2 387 664 384.5 670 387 C676 389.5 677.7 401.2 676 407 C674.3 412.8 665.2 420.3 660 422 C654.8 423.7 648.3 422 645 417 C641.7 412 635.8 397 640 392Z"/><path fill="#f5b540" d="M630 437 C632.1 434.5 641 432.8 645 433.2 C649 433.7 653.8 436.8 653.8 439.5 C653.8 442.2 648.5 448 645 449.5 C641.5 451 635 450.3 632.5 448.2 C630 446.2 627.9 439.5 630 437Z"/><path fill="#f88a30" fill-opacity="0.8" d="M633.8 439.5 C634.6 437.8 642.5 436.1 645 436.5 C647.5 436.9 649.6 440.2 648.8 442 C647.9 443.8 642.5 447.4 640 447 C637.5 446.6 632.9 441.2 633.8 439.5Z"/></g>
<g filter="url(#b2)"><path fill="#84f748" d="M460 419.5 C463.8 413.2 477.5 412.4 485 414.5 C492.5 416.6 498.3 426.6 505 432 C511.7 437.4 517.5 444.1 525 447 C532.5 449.9 542.5 449.5 550 449.5 C557.5 449.5 566.7 443.2 570 447 C573.3 450.8 574.2 466.2 570 472 C565.8 477.8 553.3 481.2 545 482 C536.7 482.8 528.3 479.9 520 477 C511.7 474.1 502.5 466.2 495 464.5 C487.5 462.8 480.4 469.1 475 467 C469.6 464.9 465 459.9 462.5 452 C460 444.1 456.2 425.8 460 419.5Z"/><path fill="#45ee80" d="M462.5 424.5 C465.2 419.5 474.6 419.9 480 422 C485.4 424.1 490 431.6 495 437 C500 442.4 508.8 449.5 510 454.5 C511.2 459.5 506.7 465.3 502.5 467 C498.3 468.7 490.4 464.9 485 464.5 C479.6 464.1 473.5 466.6 470 464.5 C466.5 462.4 465 458.7 463.8 452 C462.5 445.3 459.8 429.5 462.5 424.5Z"/></g>
<g filter="url(#b3)"><path fill="#25b5d8" fill-opacity="0.8" d="M470 427 C472.5 423.7 479.2 424.5 482.5 427 C485.8 429.5 489.6 437 490 442 C490.4 447 487.5 454.1 485 457 C482.5 459.9 477.9 461.2 475 459.5 C472.1 457.8 468.3 452.4 467.5 447 C466.7 441.6 467.5 430.3 470 427Z"/><path fill="#3a8ff7" fill-opacity="0.8" d="M482.5 427 C483.3 425.3 487.6 426.6 488.8 428.2 C489.9 429.9 490.3 435.3 489.5 437 C488.7 438.7 484.9 439.9 483.8 438.2 C482.6 436.6 481.7 428.7 482.5 427Z"/><path fill="#4166dd" fill-opacity="0.8" d="M470 454.5 C470.8 453.5 475 455.3 476.2 457 C477.5 458.7 478.3 463.5 477.5 464.5 C476.7 465.5 472.5 464.9 471.2 463.2 C470 461.6 469.2 455.5 470 454.5Z"/><path fill="#f5b540" d="M492.5 470.8 C494.8 469.3 501 468.5 505 469.5 C509 470.5 515 474.9 516.2 477 C517.5 479.1 515.2 481.4 512.5 482 C509.8 482.6 503.5 481.4 500 480.8 C496.5 480.1 492.5 479.9 491.2 478.2 C490 476.6 490.2 472.2 492.5 470.8Z"/><path fill="#4166dd" d="M481.2 473.2 C482.5 471.2 488 470.8 490 472 C492 473.2 493 478.2 493 480.8 C493 483.2 491.8 486.4 490 487 C488.2 487.6 484 486.8 482.5 484.5 C481 482.2 480 475.3 481.2 473.2Z"/></g>
<g filter="url(#b2)"><path fill="#45ee80" d="M495 487 C498.3 483.7 507.5 481.6 515 479.5 C522.5 477.4 531.7 476.6 540 474.5 C548.3 472.4 555.8 469.1 565 467 C574.2 464.9 585.8 461.2 595 462 C604.2 462.8 613.3 468.7 620 472 C626.7 475.3 633.3 478.2 635 482 C636.7 485.8 635 492.8 630 494.5 C625 496.2 613.3 492.8 605 492 C596.7 491.2 587.5 488.2 580 489.5 C572.5 490.8 567.1 496.2 560 499.5 C552.9 502.8 544.2 506.6 537.5 509.5 C530.8 512.4 525.4 516.6 520 517 C514.6 517.4 509.2 514.9 505 512 C500.8 509.1 496.7 503.7 495 499.5 C493.3 495.3 491.7 490.3 495 487Z"/><path fill="#24d9b0" fill-opacity="0.7" d="M500 489.5 C502.3 485.1 513.3 483.9 520 482 C526.7 480.1 532.5 480.1 540 478.2 C547.5 476.4 555.8 472.8 565 470.8 C574.2 468.7 586.2 465.1 595 465.8 C603.8 466.4 612.1 471.4 617.5 474.5 C622.9 477.6 629.6 482.2 627.5 484.5 C625.4 486.8 612.9 488 605 488.2 C597.1 488.5 587.5 484.7 580 485.8 C572.5 486.8 567.1 491.2 560 494.5 C552.9 497.8 544.2 502.6 537.5 505.8 C530.8 508.9 525.2 512.8 520 513.2 C514.8 513.7 509.6 512.2 506.2 508.2 C502.9 504.3 497.7 493.9 500 489.5Z"/><path fill="#25b5d8" fill-opacity="0.3" d="M502.5 492 C504.6 487.8 513.8 484.1 520 482 C526.2 479.9 533.3 480.3 540 479.5 C546.7 478.7 555 476.6 560 477 C565 477.4 570 479.5 570 482 C570 484.5 565 488.7 560 492 C555 495.3 546.7 498.7 540 502 C533.3 505.3 525.4 511.2 520 512 C514.6 512.8 510.4 510.3 507.5 507 C504.6 503.7 500.4 496.2 502.5 492Z"/></g>
<g filter="url(#b3)"><path fill="#25b5d8" fill-opacity="0.6" d="M515 484.5 C517.5 482.2 526.2 480.3 530 480.8 C533.8 481.2 537.9 484.7 537.5 487 C537.1 489.3 531.2 493.2 527.5 494.5 C523.8 495.8 517.1 496.2 515 494.5 C512.9 492.8 512.5 486.8 515 484.5Z"/><path fill="#25b5d8" fill-opacity="0.35" d="M575 469.5 C577.5 466.6 589.2 462.4 595 464.5 C600.8 466.6 610 478.2 610 482 C610 485.8 600 487 595 487 C590 487 583.3 484.9 580 482 C576.7 479.1 572.5 472.4 575 469.5Z"/><path fill="#3a8ff7" fill-opacity="0.3" d="M582.5 464.5 C582.5 462.6 589.6 462 592.5 463.2 C595.4 464.5 600 470.1 600 472 C600 473.9 595.4 475.8 592.5 474.5 C589.6 473.2 582.5 466.4 582.5 464.5Z"/><path fill="#25b5d8" fill-opacity="0.5" d="M610 482 C611.7 479.5 625.8 478.2 630 479.5 C634.2 480.8 636.7 487 635 489.5 C633.3 492 624.2 495.8 620 494.5 C615.8 493.2 608.3 484.5 610 482Z"/><path fill="#4166dd" fill-opacity="0.8" d="M630 487 C630.8 486.1 634.6 485.7 635.5 486.5 C636.4 487.3 636.3 491.1 635.5 492 C634.7 492.9 631.4 492.8 630.5 492 C629.6 491.2 629.2 487.9 630 487Z"/></g>
<g filter="url(#b2)"><path fill="#b4ee3a" d="M555 502 C560 495.3 574.2 492.4 585 492 C595.8 491.6 610 496.2 620 499.5 C630 502.8 640.8 505.8 645 512 C649.2 518.2 649.2 529.5 645 537 C640.8 544.5 628.3 551.2 620 557 C611.7 562.8 605 569.5 595 572 C585 574.5 566.7 578.7 560 572 C553.3 565.3 555.8 543.7 555 532 C554.2 520.3 550 508.7 555 502Z"/></g>
<g filter="url(#b3)"><path fill="#f5b540" fill-opacity="0.85" d="M515 522 C516.2 520.1 523.8 520.8 527.5 518.2 C531.2 515.8 532.1 509.9 537.5 507 C542.9 504.1 554.6 502 560 500.8 C565.4 499.5 570 498.5 570 499.5 C570 500.5 565 504.9 560 507 C555 509.1 545 509.1 540 512 C535 514.9 533.3 521.6 530 524.5 C526.7 527.4 522.5 529.9 520 529.5 C517.5 529.1 513.8 523.9 515 522Z"/><path fill="#dcd53c" fill-opacity="0.8" d="M560 492 C562.9 489.5 574.2 487 580 487 C585.8 487 595 489.9 595 492 C595 494.1 585.4 497.8 580 499.5 C574.6 501.2 565.8 503.2 562.5 502 C559.2 500.8 557.1 494.5 560 492Z"/></g>
<g filter="url(#b2)"><path fill="#45ee80" fill-opacity="0.8" d="M505 522 C508.3 518.7 519.6 523.7 525 527 C530.4 530.3 535 534.5 537.5 542 C540 549.5 544.6 567 540 572 C535.4 577 515.8 576.2 510 572 C504.2 567.8 505.8 555.3 505 547 C504.2 538.7 501.7 525.3 505 522Z"/></g>
<g filter="url(#b3)"><path fill="#24d9b0" fill-opacity="0.5" d="M520 532 C522.1 524.9 529.6 526.2 532.5 529.5 C535.4 532.8 537.9 544.9 537.5 552 C537.1 559.1 532.9 568.7 530 572 C527.1 575.3 521.7 578.7 520 572 C518.3 565.3 517.9 539.1 520 532Z"/><path fill="#ffffff" d="M532.5 517 C534.6 513.9 541 512.8 545 513.2 C549 513.7 554.2 514.7 556.2 519.5 C558.3 524.3 557.5 535.8 557.5 542 C557.5 548.2 558.3 554.5 556.2 557 C554.2 559.5 548.1 557.8 545 557 C541.9 556.2 538.3 554.5 537.5 552 C536.7 549.5 540.8 545.3 540 542 C539.2 538.7 533.8 536.2 532.5 532 C531.2 527.8 530.4 520.1 532.5 517Z"/><ellipse fill="#ffffff" cx="517.5" cy="463.2" rx="5" ry="2.2"/><ellipse fill="#ffffff" fill-opacity="0.85" cx="556.2" cy="468.2" rx="2.5" ry="1.5"/><ellipse fill="#ffffff" fill-opacity="0.85" cx="550" cy="477" rx="1.5" ry="1.2"/><ellipse fill="#ffffff" fill-opacity="0.85" cx="600" cy="483.2" rx="3" ry="1.5"/><ellipse fill="#ffffff" fill-opacity="0.85" cx="592.5" cy="478.2" rx="1.5" ry="1"/><ellipse fill="#ffffff" fill-opacity="0.85" cx="570" cy="512" rx="3.5" ry="2"/><ellipse fill="#ffffff" fill-opacity="0.85" cx="582.5" cy="515.8" rx="3" ry="1.5"/><ellipse fill="#ffffff" fill-opacity="0.85" cx="595" cy="514.5" rx="4" ry="2.5"/><ellipse fill="#ffffff" fill-opacity="0.85" cx="570" cy="532" rx="3.5" ry="2.5"/><ellipse fill="#ffffff" fill-opacity="0.85" cx="565" cy="522" rx="2.5" ry="2"/><ellipse fill="#ffffff" fill-opacity="0.85" cx="612.5" cy="532" rx="2" ry="1.5"/><ellipse fill="#ffffff" fill-opacity="0.85" cx="600" cy="522" rx="2" ry="1.2"/><ellipse fill="#ffffff" fill-opacity="0.85" cx="527.5" cy="524.5" rx="2.5" ry="2"/><ellipse fill="#ffffff" fill-opacity="0.85" cx="472.5" cy="428.2" rx="2" ry="2.5"/><path fill="#f5b540" d="M610 522 C613.8 517.8 629.2 512 635 512 C640.8 512 644.2 517 645 522 C645.8 527 644.2 537.8 640 542 C635.8 546.2 624.6 547.8 620 547 C615.4 546.2 614.2 541.2 612.5 537 C610.8 532.8 606.2 526.2 610 522Z"/><path fill="#e85a25" d="M617.5 529.5 C619.6 526.8 629.8 524.5 632.5 525.8 C635.2 527 634.6 533.9 633.8 537 C632.9 540.1 629.8 543.7 627.5 544.5 C625.2 545.3 621.7 544.5 620 542 C618.3 539.5 615.4 532.2 617.5 529.5Z"/><path fill="#cc361c" fill-opacity="0.8" d="M620 532 C621.2 530.1 628.3 528.2 630 529.5 C631.7 530.8 631.2 537.6 630 539.5 C628.8 541.4 624.7 542 623 540.8 C621.3 539.5 618.8 533.9 620 532Z"/></g>
<g filter="url(#b2)"><path fill="#45ee80" d="M602 377 C609.9 367.8 639.5 373.7 649.5 377 C659.5 380.3 662 388.7 662 397 C662 405.3 655.3 420.3 649.5 427 C643.7 433.7 634.9 436.2 627 437 C619.1 437.8 606.2 442 602 432 C597.8 422 594.1 386.2 602 377Z"/><path fill="#24d9b0" fill-opacity="0.7" d="M612 387 C616.2 382 631.6 383.7 637 387 C642.4 390.3 646.2 401.2 644.5 407 C642.8 412.8 632.4 420.3 627 422 C621.6 423.7 614.5 422.8 612 417 C609.5 411.2 607.8 392 612 387Z"/><path fill="#dcd53c" d="M649.5 372 C657 367.8 688.2 367.8 697 372 C705.8 376.2 702.4 389.5 702 397 C701.6 404.5 699.1 412 694.5 417 C689.9 422 680.8 426.6 674.5 427 C668.2 427.4 660.8 424.5 657 419.5 C653.2 414.5 653.2 404.9 652 397 C650.8 389.1 642 376.2 649.5 372Z"/></g>
<g filter="url(#b3)"><path fill="#f5b540" d="M657 372 C662.6 368.7 685.5 368.2 692 372 C698.5 375.8 696.6 387.8 695.8 394.5 C694.9 401.2 691 407.8 687 412 C683 416.2 676.2 419.9 672 419.5 C667.8 419.1 664.3 414.1 662 409.5 C659.7 404.9 659.1 398.2 658.2 392 C657.4 385.8 651.4 375.3 657 372Z"/><path fill="#25b5d8" fill-opacity="0.8" d="M639.5 424.5 C641.6 423.2 651.6 422.4 654.5 423.2 C657.4 424.1 659.1 428.2 657 429.5 C654.9 430.8 644.9 431.6 642 430.8 C639.1 429.9 637.4 425.8 639.5 424.5Z"/><path fill="#3a8ff7" fill-opacity="0.7" d="M642 425 C643.5 424.2 650.1 424 652 424.5 C653.9 425 654.7 427.5 653.2 428.2 C651.8 429 645.1 429.5 643.2 429 C641.4 428.5 640.5 425.8 642 425Z"/></g>
<g filter="url(#b2)"><path fill="#45ee80" d="M732 377 C744.9 373.7 798.7 370.8 812 377 C825.3 383.2 816.2 407.6 812 414.5 C807.8 421.4 794.5 417 787 418.2 C779.5 419.5 773.2 420.8 767 422 C760.8 423.2 753.7 427.4 749.5 425.8 C745.3 424.1 744.5 416.8 742 412 C739.5 407.2 736.2 402.8 734.5 397 C732.8 391.2 719.1 380.3 732 377Z"/><path fill="#84f748" fill-opacity="0.8" d="M742 384.5 C745.3 381.2 758.7 381.6 767 382 C775.3 382.4 785.3 384.5 792 387 C798.7 389.5 804.9 392.8 807 397 C809.1 401.2 808.7 409.1 804.5 412 C800.3 414.9 789.1 414.5 782 414.5 C774.9 414.5 767.8 414.1 762 412 C756.2 409.9 750.3 406.6 747 402 C743.7 397.4 738.7 387.8 742 384.5Z"/></g>
<g filter="url(#b3)"><path fill="#b4ee3a" fill-opacity="0.5" d="M747 387 C749.1 384.9 757.8 383.2 762 384.5 C766.2 385.8 772 391.6 772 394.5 C772 397.4 765.8 401.6 762 402 C758.2 402.4 752 399.5 749.5 397 C747 394.5 744.9 389.1 747 387Z"/><path fill="#24d9b0" fill-opacity="0.7" d="M762 412 C765.3 409.6 779.5 407.8 787 407 C794.5 406.2 803.5 406 807 407 C810.5 408 811.6 411.5 808.2 413.2 C804.9 415 793.9 416.1 787 417.5 C780.1 418.9 771.2 422.4 767 421.5 C762.8 420.6 758.7 414.4 762 412Z"/><path fill="#f5b540" d="M719.5 379.5 C720.8 377.4 727.4 379.1 729.5 382 C731.6 384.9 730.8 392.4 732 397 C733.2 401.6 737.4 407.4 737 409.5 C736.6 411.6 732 412 729.5 409.5 C727 407 723.7 399.5 722 394.5 C720.3 389.5 718.2 381.6 719.5 379.5Z"/><path fill="none" stroke="#3a8ff7" stroke-width="3" stroke-linecap="round" stroke-linejoin="round" d="M733.2 382 C733.7 384.5 734.1 392 735.8 397 C737.4 402 741 407.5 743.2 412 C745.5 416.5 748 422 749 424"/><path fill="none" stroke="#ffffff" stroke-width="1.8" stroke-linecap="round" stroke-linejoin="round" d="M733 382 L735 394.5"/><ellipse fill="#ffffff" cx="738.2" cy="405.8" rx="2.2" ry="1.4"/></g>
<g filter="url(#b2)"><path fill="#24d9b0" d="M714.5 432 C717.4 427.8 724.1 437.6 729.5 439.5 C734.9 441.4 742.6 440.8 747 443.2 C751.4 445.8 754.5 451 755.8 454.5 C757 458 757.2 460.8 754.5 464.5 C751.8 468.2 742.4 473.2 739.5 477 C736.6 480.8 738.7 484.5 737 487 C735.3 489.5 732.8 491.6 729.5 492 C726.2 492.4 719.9 494.1 717 489.5 C714.1 484.9 712.4 474.1 712 464.5 C711.6 454.9 711.6 436.2 714.5 432Z"/><path fill="#45ee80" fill-opacity="0.8" d="M722 442 C724.5 438.2 732 443.2 737 444.5 C742 445.8 749.1 446.6 752 449.5 C754.9 452.4 756.2 457.8 754.5 462 C752.8 466.2 746.2 471.2 742 474.5 C737.8 477.8 732.8 483.2 729.5 482 C726.2 480.8 723.2 473.7 722 467 C720.8 460.3 719.5 445.8 722 442Z"/></g>
<g filter="url(#b3)"><path fill="#25b5d8" fill-opacity="0.7" d="M734.5 457 C735.3 454.5 740.3 452.8 742 454.5 C743.7 456.2 745.3 464.5 744.5 467 C743.7 469.5 738.7 471.2 737 469.5 C735.3 467.8 733.7 459.5 734.5 457Z"/></g>
<g filter="url(#b2)"><path fill="#b4ee3a" d="M637 457 C641.6 449.1 652.4 439.1 662 434.5 C671.6 429.9 685.3 429.3 694.5 429.5 C703.7 429.7 712.4 431.2 717 435.8 C721.6 440.3 721.6 449.3 722 457 C722.4 464.7 722 475.8 719.5 482 C717 488.2 712.4 491.2 707 494.5 C701.6 497.8 694.5 500.3 687 502 C679.5 503.7 669.5 505.3 662 504.5 C654.5 503.7 646.6 500.8 642 497 C637.4 493.2 635.3 488.7 634.5 482 C633.7 475.3 632.4 464.9 637 457Z"/><path fill="#f5b540" d="M639.5 477 C641.2 471.6 649.5 465.5 654.5 459.5 C659.5 453.5 663.2 445.1 669.5 440.8 C675.8 436.4 684.5 433.5 692 433.2 C699.5 433 710.1 434.7 714.5 439.5 C718.9 444.3 718.2 454.9 718.2 462 C718.2 469.1 717.6 476.6 714.5 482 C711.4 487.4 704.9 491.6 699.5 494.5 C694.1 497.4 688.7 498.7 682 499.5 C675.3 500.3 665.8 500.8 659.5 499.5 C653.2 498.2 647.8 495.8 644.5 492 C641.2 488.2 637.8 482.4 639.5 477Z"/></g>
<g filter="url(#b3)"><path fill="#f88a30" d="M660.3 482.3 C664.1 480.2 667.8 473.7 671 467.3 C674.3 460.8 676.4 448.8 679.6 443.6 C682.9 438.4 685 437 690.4 436.1 C695.7 435.2 707.3 435.6 711.9 438.3 C716.4 440.9 716.9 445.2 717.9 452.2 C718.8 459.2 718.8 473.7 717.4 480.2 C716.1 486.6 714.2 488 709.7 490.9 C705.2 493.8 697.2 495.8 690.4 497.3 C683.6 498.8 675.3 500.2 668.9 499.9 C662.4 499.6 656.3 497.8 651.7 495.6 C647.1 493.4 641.9 489.2 641.4 486.6 C640.9 484 645.3 480.9 648.5 480.2 C651.6 479.4 656.5 484.4 660.3 482.3Z"/><path fill="#e85a25" fill-opacity="0.95" d="M678.6 446.9 C680.6 443.3 684.8 439.3 690.4 438.3 C695.9 437.2 707.6 436.3 711.9 440.4 C716.2 444.5 715.8 456 716.2 463 C716.5 469.9 716.2 477.6 714 482.3 C711.9 487 707.9 489.1 703.3 490.9 C698.6 492.7 691.1 491.9 686.1 493 C681.1 494.2 678.2 497.3 673.2 497.8 C668.2 498.2 660.6 497.4 656 495.6 C651.4 493.8 646.2 489.4 645.7 487 C645.2 484.6 648.9 481.8 652.8 481.2 C656.6 480.6 664.4 484.4 668.9 483.4 C673.4 482.3 678.1 478.7 679.6 474.8 C681.1 470.8 678.1 464.4 677.9 459.7 C677.7 455.1 676.5 450.4 678.6 446.9Z"/><path fill="#cc361c" fill-opacity="0.85" d="M681.8 442.6 C684.2 439.4 689.7 438.3 694.7 438.3 C699.7 438.3 708.6 438.4 711.9 442.6 C715.1 446.7 714.4 457.1 714 463 C713.6 468.9 712.9 475 709.7 478 C706.5 481 698.9 482.1 694.7 481.2 C690.4 480.3 686.8 476.7 684.4 472.6 C681.9 468.6 680.5 462 680.1 456.9 C679.6 451.9 679.3 445.7 681.8 442.6Z"/><path fill="#a31a14" fill-opacity="0.45" d="M686.5 452.2 C688.6 448.3 695.1 444.4 699 444.1 C702.8 443.7 707.9 445.9 709.7 450.1 C711.5 454.3 712.1 465.1 709.7 469.4 C707.3 473.7 699 476.1 695.1 475.9 C691.2 475.6 687.9 471.6 686.5 467.7 C685.1 463.8 684.4 456.2 686.5 452.2Z"/><path fill="#f5b540" fill-opacity="0.8" d="M632 435.8 C634.5 433.2 647 431.4 649.5 433.2 C652 435.1 649.5 444.5 647 447 C644.5 449.5 637 450.1 634.5 448.2 C632 446.4 629.5 438.2 632 435.8Z"/><path fill="#45ee80" d="M612 464.5 C615.3 460.3 627.8 459.1 632 462 C636.2 464.9 638.7 477.4 637 482 C635.3 486.6 626.2 488.7 622 489.5 C617.8 490.3 613.7 491.2 612 487 C610.3 482.8 608.7 468.7 612 464.5Z"/><path fill="#25b5d8" fill-opacity="0.8" d="M612 482 C614.1 479.5 625.8 477.8 629.5 479.5 C633.2 481.2 636.6 489.5 634.5 492 C632.4 494.5 620.8 496.2 617 494.5 C613.2 492.8 609.9 484.5 612 482Z"/></g>
<g filter="url(#b2)"><path fill="#25b5d8" d="M697 494.5 C699.9 487 711.2 487.8 717 487 C722.8 486.2 727 487 732 489.5 C737 492 744.3 496.2 747 502 C749.7 507.8 749.9 518.7 748.2 524.5 C746.6 530.3 741.8 533.2 737 537 C732.2 540.8 723.2 541.2 719.5 547 C715.8 552.8 717.4 567.8 714.5 572 C711.6 576.2 704.5 578.7 702 572 C699.5 565.3 700.3 544.9 699.5 532 C698.7 519.1 694.1 502 697 494.5Z"/><path fill="#3a8ff7" fill-opacity="0.85" d="M698.2 499.5 C699.9 493.5 708.5 495.3 712 495.8 C715.5 496.2 717.8 498.5 719.5 502 C721.2 505.5 722 512 722 517 C722 522 720.8 527.4 719.5 532 C718.2 536.6 715.8 537.8 714.5 544.5 C713.2 551.2 713.7 567.4 712 572 C710.3 576.6 706.2 578.7 704.5 572 C702.8 565.3 703 544.1 702 532 C701 519.9 696.6 505.5 698.2 499.5Z"/></g>
<g filter="url(#b3)"><path fill="#24d9b0" d="M729.5 482 C730.8 478.7 736.6 476.2 739.5 479.5 C742.4 482.8 745.5 494.9 747 502 C748.5 509.1 749.5 517 748.2 522 C747 527 741.8 532.8 739.5 532 C737.2 531.2 735.8 522.4 734.5 517 C733.2 511.6 732.8 505.3 732 499.5 C731.2 493.7 728.2 485.3 729.5 482Z"/><path fill="#45ee80" fill-opacity="0.8" d="M734.5 487 C735.3 482.8 740.1 483.7 742 487 C743.9 490.3 745.8 501.2 745.8 507 C745.8 512.8 743.5 521.2 742 522 C740.5 522.8 738.2 517.8 737 512 C735.8 506.2 733.7 491.2 734.5 487Z"/></g>
<g filter="url(#b2)"><path fill="#dcd53c" d="M602 497 C607.8 484.9 627 497.8 637 499.5 C647 501.2 653.7 506.2 662 507 C670.3 507.8 681.2 502 687 504.5 C692.8 507 694.9 513.2 697 522 C699.1 530.8 701.2 548.7 699.5 557 C697.8 565.3 703.2 569.5 687 572 C670.8 574.5 616.2 584.5 602 572 C587.8 559.5 596.2 509.1 602 497Z"/></g>
<g filter="url(#b3)"><path fill="#f5b540" fill-opacity="0.8" d="M607 512 C610.3 504.5 623.7 507 632 507 C640.3 507 649.5 511.2 657 512 C664.5 512.8 671.2 509.5 677 512 C682.8 514.5 690.3 521.2 692 527 C693.7 532.8 692 542.8 687 547 C682 551.2 670.3 550.8 662 552 C653.7 553.2 645.3 554.5 637 554.5 C628.7 554.5 617 559.1 612 552 C607 544.9 603.7 519.5 607 512Z"/><path fill="#e85a25" d="M615.8 528.2 C617.6 525.5 626 524.7 629.5 525.8 C633 526.8 637 531.4 637 534.5 C637 537.6 632.6 543.2 629.5 544.5 C626.4 545.8 620.5 544.7 618.2 542 C616 539.3 613.9 531 615.8 528.2Z"/><path fill="#cc361c" fill-opacity="0.8" d="M619.5 532 C620.1 529.9 626.2 528.7 628.2 529.5 C630.3 530.3 632.6 534.9 632 537 C631.4 539.1 626.6 542.8 624.5 542 C622.4 541.2 618.9 534.1 619.5 532Z"/><path fill="#e85a25" d="M665.8 518.2 C667.6 516.6 674.5 515.5 677 517 C679.5 518.5 681.6 524.5 680.8 527 C679.9 529.5 674.5 532 672 532 C669.5 532 666.8 529.3 665.8 527 C664.7 524.7 663.9 519.9 665.8 518.2Z"/><path fill="#f88a30" fill-opacity="0.8" d="M649.5 534.5 C653.7 532.4 672 530.8 677 532 C682 533.2 683.7 539.9 679.5 542 C675.3 544.1 657 545.8 652 544.5 C647 543.2 645.3 536.6 649.5 534.5Z"/><path fill="#4166dd" fill-opacity="0.9" d="M657 535.8 C658.9 534.3 668.2 532 670.8 532 C673.2 532 673.9 534.3 672 535.8 C670.1 537.2 662 540.8 659.5 540.8 C657 540.8 655.1 537.2 657 535.8Z"/><path fill="#84f748" fill-opacity="0.6" d="M612 494.5 C617 492.8 633.7 497.4 642 499.5 C650.3 501.6 662 504.9 662 507 C662 509.1 650.3 511.6 642 512 C633.7 512.4 617 512.4 612 509.5 C607 506.6 607 496.2 612 494.5Z"/></g>
<g filter="url(#b2)"><path fill="#b4ee3a" d="M560 505 C583.3 495.8 671.7 500 695 505 C718.3 510 698.3 525.8 700 535 C701.7 544.2 705.8 554.2 705 560 C704.2 565.8 700.8 570.4 695 570 C689.2 569.6 677.5 559.2 670 557.5 C662.5 555.8 656.7 557.9 650 560 C643.3 562.1 635.8 565.8 630 570 C624.2 574.2 620.4 579.6 615 585 C609.6 590.4 603.3 600.6 597.5 602.5 C591.7 604.4 585.8 597.5 580 596.2 C574.2 595 566.7 601 562.5 595 C558.3 589 555.4 575 555 560 C554.6 545 536.7 514.2 560 505Z"/><path fill="#dcd53c" fill-opacity="0.8" d="M605 525 C610.8 519.2 625 517.5 640 515 C655 512.5 685 505.8 695 510 C705 514.2 700 530.8 700 540 C700 549.2 700 562.5 695 565 C690 567.5 678.3 556.2 670 555 C661.7 553.8 653.3 556.2 645 557.5 C636.7 558.8 626.7 563.8 620 562.5 C613.3 561.2 607.5 556.2 605 550 C602.5 543.8 599.2 530.8 605 525Z"/></g>
<g filter="url(#b3)"><path fill="#f5b540" fill-opacity="0.75" d="M610 530 C614.6 526.2 626.7 520.8 635 520 C643.3 519.2 651.7 525 660 525 C668.3 525 680 516.7 685 520 C690 523.3 692.5 539.6 690 545 C687.5 550.4 677.5 551.7 670 552.5 C662.5 553.3 653.3 549.6 645 550 C636.7 550.4 626.2 556.2 620 555 C613.8 553.8 609.2 546.7 607.5 542.5 C605.8 538.3 605.4 533.8 610 530Z"/><path fill="#e85a25" d="M616.2 531.2 C617.9 528.5 626.7 525.6 630 526.2 C633.3 526.9 636.2 532.1 636.2 535 C636.2 537.9 632.7 542.5 630 543.8 C627.3 545 622.3 544.6 620 542.5 C617.7 540.4 614.6 534 616.2 531.2Z"/><path fill="#cc361c" fill-opacity="0.8" d="M621.2 532.5 C622.3 530.6 628.3 529 630 530 C631.7 531 632.3 536.9 631.2 538.8 C630.2 540.6 625.4 542.3 623.8 541.2 C622.1 540.2 620.2 534.4 621.2 532.5Z"/><path fill="#f88a30" fill-opacity="0.8" d="M647.5 535 C649.6 532.5 662.1 530 667.5 530 C672.9 530 678.8 532.5 680 535 C681.2 537.5 679.2 543.3 675 545 C670.8 546.7 659.6 546.7 655 545 C650.4 543.3 645.4 537.5 647.5 535Z"/><path fill="#e85a25" d="M667.5 517.5 C669 514.4 676.7 514.2 678.8 516.2 C680.8 518.3 680.2 526 680 530 C679.8 534 679.2 539.2 677.5 540 C675.8 540.8 671.7 538.8 670 535 C668.3 531.2 666 520.6 667.5 517.5Z"/><path fill="#4166dd" fill-opacity="0.9" d="M658.8 536.2 C660.4 534.8 669 532.5 671.2 532.5 C673.5 532.5 674.2 534.8 672.5 536.2 C670.8 537.7 663.5 541.2 661.2 541.2 C659 541.2 657.1 537.7 658.8 536.2Z"/></g>
<g filter="url(#b2)"><path fill="#45ee80" d="M507.5 525 C510.8 519.2 520.8 520 530 520 C539.2 520 556.7 518.3 562.5 525 C568.3 531.7 563.8 550 565 560 C566.2 570 570.4 579 570 585 C569.6 591 566.7 593.8 562.5 596.2 C558.3 598.8 550.4 600.2 545 600 C539.6 599.8 534.2 598.3 530 595 C525.8 591.7 523.3 586.7 520 580 C516.7 573.3 512.1 564.2 510 555 C507.9 545.8 504.2 530.8 507.5 525Z"/><path fill="#24d9b0" fill-opacity="0.6" d="M512.5 540 C515.4 534.6 527.9 533.3 535 535 C542.1 536.7 551.2 543.3 555 550 C558.8 556.7 559.2 568.3 557.5 575 C555.8 581.7 549.6 588.3 545 590 C540.4 591.7 534.6 588.8 530 585 C525.4 581.2 520.4 575 517.5 567.5 C514.6 560 509.6 545.4 512.5 540Z"/></g>
<g filter="url(#b3)"><path fill="#25b5d8" fill-opacity="0.4" d="M517.5 547.5 C518.8 542.9 528.3 542.9 532.5 545 C536.7 547.1 541.7 555 542.5 560 C543.3 565 540.4 572.9 537.5 575 C534.6 577.1 528.3 577.1 525 572.5 C521.7 567.9 516.2 552.1 517.5 547.5Z"/><path fill="#b4ee3a" fill-opacity="0.8" d="M525 585 C527.5 584.2 537.5 591.7 542.5 592.5 C547.5 593.3 553.3 588.8 555 590 C556.7 591.2 555.4 597.5 552.5 600 C549.6 602.5 541.7 605.4 537.5 605 C533.3 604.6 529.6 600.8 527.5 597.5 C525.4 594.2 522.5 585.8 525 585Z"/><path fill="#f5b540" d="M517.5 518.8 C518.8 517.5 525.4 516.7 527.5 517.5 C529.6 518.3 531.2 522.5 530 523.8 C528.8 525 522.1 525.8 520 525 C517.9 524.2 516.2 520 517.5 518.8Z"/></g>
<g filter="url(#b2)"><path fill="#45ee80" d="M580 595 C585.8 596.2 591.7 603.1 597.5 601.2 C603.3 599.4 609.6 589.2 615 583.8 C620.4 578.3 624.2 572.9 630 568.8 C635.8 564.6 643.3 560.8 650 558.8 C656.7 556.7 662.5 554.6 670 556.2 C677.5 557.9 689.2 568.1 695 568.8 C700.8 569.4 702.9 558.1 705 560 C707.1 561.9 709.6 577.1 707.5 580 C705.4 582.9 697.9 579.8 692.5 577.5 C687.1 575.2 681.2 567.9 675 566.2 C668.8 564.6 661.7 565.2 655 567.5 C648.3 569.8 640.8 575.4 635 580 C629.2 584.6 625.8 590 620 595 C614.2 600 606.7 608.3 600 610 C593.3 611.7 587.5 606.2 580 605 C572.5 603.8 560.8 602.1 555 602.5 C549.2 602.9 547.1 608.3 545 607.5 C542.9 606.7 539.6 599.8 542.5 597.5 C545.4 595.2 556.2 594.2 562.5 593.8 C568.8 593.3 574.2 593.8 580 595Z"/><path fill="#24d9b0" fill-opacity="0.8" d="M550 605 C554.6 603.8 571.7 603.1 580 603.8 C588.3 604.4 593.3 610.4 600 608.8 C606.7 607.1 614.2 598.8 620 593.8 C625.8 588.8 629.2 583.2 635 578.8 C640.8 574.3 648.3 569.2 655 567 C661.7 564.8 668.8 563.8 675 565.5 C681.2 567.2 687.5 574.2 692.5 577 C697.5 579.8 703.8 580.3 705 582.5 C706.2 584.7 704.2 591.2 700 590 C695.8 588.8 687.5 577.5 680 575 C672.5 572.5 661.7 572.9 655 575 C648.3 577.1 645 582.9 640 587.5 C635 592.1 631.2 597.9 625 602.5 C618.8 607.1 610 613.8 602.5 615 C595 616.2 588.3 610.6 580 610 C571.7 609.4 557.5 612.1 552.5 611.2 C547.5 610.4 545.4 606.2 550 605Z"/></g>
<g filter="url(#b3)"><path fill="#ffffff" d="M533.8 520 C535 515.8 541.5 515 545 515 C548.5 515 552.8 516.7 555 520 C557.2 523.3 557.8 530.4 558 535 C558.2 539.6 557.2 544.4 556.2 547.5 C555.3 550.6 554.6 553.1 552.5 553.8 C550.4 554.4 546.2 553.5 543.8 551.2 C541.2 549 539.2 545.2 537.5 540 C535.8 534.8 532.5 524.2 533.8 520Z"/><ellipse fill="#ffffff" fill-opacity="0.9" cx="565" cy="540" rx="3.5" ry="2.5"/><ellipse fill="#ffffff" fill-opacity="0.9" cx="572.5" cy="555" rx="4" ry="3"/><ellipse fill="#ffffff" fill-opacity="0.9" cx="567.5" cy="570" rx="5" ry="3.5"/><ellipse fill="#ffffff" fill-opacity="0.9" cx="577.5" cy="590" rx="3.5" ry="2.5"/><ellipse fill="#ffffff" fill-opacity="0.9" cx="545" cy="595" rx="3" ry="2"/><ellipse fill="#ffffff" fill-opacity="0.9" cx="530" cy="582.5" rx="3" ry="2.5"/><ellipse fill="#ffffff" fill-opacity="0.9" cx="525" cy="540" rx="2" ry="2.5"/><ellipse fill="#ffffff" fill-opacity="0.9" cx="563.8" cy="525" rx="2.5" ry="2"/><ellipse fill="#ffffff" fill-opacity="0.9" cx="585" cy="540" rx="2" ry="1.2"/><ellipse fill="#ffffff" fill-opacity="0.9" cx="537.5" cy="528.8" rx="1.5" ry="2"/><ellipse fill="#3a8ff7" cx="539.5" cy="528.8" rx="1.5" ry="2"/></g>
<g filter="url(#b2)"><path fill="#4166dd" d="M538.8 627.5 C540.8 625.6 548.1 632.1 552.5 635 C556.9 637.9 562.7 641.7 565 645 C567.3 648.3 567.5 652.7 566.2 655 C565 657.3 560.6 659 557.5 658.8 C554.4 658.5 550.4 655.8 547.5 653.8 C544.6 651.7 541.5 650.6 540 646.2 C538.5 641.9 536.7 629.4 538.8 627.5Z"/></g>
<g filter="url(#b3)"><path fill="#3c3c99" fill-opacity="0.8" d="M552.5 650 C553.8 648.8 561.7 649 563.8 650 C565.8 651 566.2 655 565 656.2 C563.8 657.5 558.3 658.5 556.2 657.5 C554.2 656.5 551.2 651.2 552.5 650Z"/></g>
<g filter="url(#b2)"><path fill="#4166dd" fill-opacity="0.85" d="M620 617.5 C625.8 613.3 631.7 607.9 640 605 C648.3 602.1 660.8 601.7 670 600 C679.2 598.3 691.7 593.3 695 595 C698.3 596.7 693.3 605.4 690 610 C686.7 614.6 680.8 618.3 675 622.5 C669.2 626.7 661.7 631.7 655 635 C648.3 638.3 641.7 640.8 635 642.5 C628.3 644.2 620.8 644.6 615 645 C609.2 645.4 601.7 647.5 600 645 C598.3 642.5 601.7 634.6 605 630 C608.3 625.4 614.2 621.7 620 617.5Z"/></g>
<g filter="url(#b3)"><path fill="#3c3c99" d="M652.5 587.5 C655.4 585.2 660.3 583.3 663.8 583.8 C667.2 584.2 672.2 587.3 673 590 C673.8 592.7 671.3 597.1 668.8 600 C666.2 602.9 661.2 607.9 657.5 607.5 C653.8 607.1 647.1 600.8 646.2 597.5 C645.4 594.2 649.6 589.8 652.5 587.5Z"/><path fill="#3c3c99" fill-opacity="0.85" d="M647.5 608 C648.9 606.7 656.4 606.3 658 607.5 C659.6 608.7 658.4 613.7 657 615 C655.6 616.3 651.1 616.7 649.5 615.5 C647.9 614.3 646.1 609.3 647.5 608Z"/><path fill="#3c3c99" fill-opacity="0.4" d="M625 622.5 C626.7 620.8 635 620 640 620 C645 620 654.2 620.8 655 622.5 C655.8 624.2 649.2 628.8 645 630 C640.8 631.2 633.3 631.2 630 630 C626.7 628.8 623.3 624.2 625 622.5Z"/></g>
<g filter="url(#b2)"><path fill="#25b5d8" d="M545 622.5 C546.2 621.2 551.7 625.4 555 627.5 C558.3 629.6 560 633.5 565 635 C570 636.5 577.5 635.8 585 636.2 C592.5 636.7 603.3 638.1 610 637.5 C616.7 636.9 623.3 631.7 625 632.5 C626.7 633.3 624.2 640.4 620 642.5 C615.8 644.6 606.7 644.4 600 645 C593.3 645.6 586.7 646.2 580 646.2 C573.3 646.2 565.4 646.9 560 645 C554.6 643.1 550 638.8 547.5 635 C545 631.2 543.8 623.8 545 622.5Z"/></g>
<g filter="url(#b3)"><path fill="#24d9b0" d="M547.5 625 C548.3 624.6 552.9 630.8 557.5 632.5 C562.1 634.2 567.9 634.2 575 635 C582.1 635.8 592.5 637.5 600 637.5 C607.5 637.5 617.5 634.4 620 635 C622.5 635.6 620 640.1 615 641.2 C610 642.4 598.3 642 590 642 C581.7 642 571.2 642.4 565 641.2 C558.8 640.1 555.4 637.7 552.5 635 C549.6 632.3 546.7 625.4 547.5 625Z"/><path fill="#45ee80" fill-opacity="0.8" d="M550 627.5 C551 627.5 555 632.3 560 633.8 C565 635.2 573.8 635.6 580 636.2 C586.2 636.9 595.8 636.9 597.5 637.5 C599.2 638.1 595.4 639.7 590 640 C584.6 640.3 571 640.5 565 639.5 C559 638.5 556.2 635.8 553.8 633.8 C551.2 631.8 549 627.5 550 627.5Z"/><path fill="#f5b540" fill-opacity="0.85" d="M690 550 C691.5 547.3 697.7 546.2 700 547.5 C702.3 548.8 703.8 554.4 703.8 557.5 C703.8 560.6 702.1 565.2 700 566.2 C697.9 567.3 692.9 566.5 691.2 563.8 C689.6 561 688.5 552.7 690 550Z"/><path fill="#b4ee3a" fill-opacity="0.4" d="M687.5 547.5 C690 543.8 701.9 541.7 705 545 C708.1 548.3 708.8 563.8 706.2 567.5 C703.8 571.2 693.1 570.8 690 567.5 C686.9 564.2 685 551.2 687.5 547.5Z"/></g>
<g filter="url(#b2)"><path fill="#45ee80" d="M480 205 C485.4 192.5 502.1 204.2 512.5 200 C522.9 195.8 533.3 186.2 542.5 180 C551.7 173.8 556.2 166.7 567.5 162.5 C578.8 158.3 599.6 153.3 610 155 C620.4 156.7 622.5 168.8 630 172.5 C637.5 176.2 646.7 175.8 655 177.5 C663.3 179.2 674.2 178.8 680 182.5 C685.8 186.2 689.2 192.9 690 200 C690.8 207.1 688.3 215.8 685 225 C681.7 234.2 673.3 246.7 670 255 C666.7 263.3 671.7 271.7 665 275 C658.3 278.3 644.2 275 630 275 C615.8 275 598.3 276.2 580 275 C561.7 273.8 534.2 268.3 520 267.5 C505.8 266.7 501.7 268.8 495 270 C488.3 271.2 482.5 285.8 480 275 C477.5 264.2 474.6 217.5 480 205Z"/><path fill="#24d9b0" d="M512.5 207.5 C517.5 199.6 533.3 192.5 542.5 190 C551.7 187.5 557.9 190.8 567.5 192.5 C577.1 194.2 591.2 196.2 600 200 C608.8 203.8 616.2 206.7 620 215 C623.8 223.3 625 241.2 622.5 250 C620 258.8 612.1 263.8 605 267.5 C597.9 271.2 590.4 272.1 580 272.5 C569.6 272.9 552.5 272.1 542.5 270 C532.5 267.9 525 265.4 520 260 C515 254.6 513.8 246.2 512.5 237.5 C511.2 228.8 507.5 215.4 512.5 207.5Z"/></g>
<g filter="url(#b3)"><path fill="#25b5d8" fill-opacity="0.7" d="M560 256.2 C562.1 254.2 575.8 253.8 580 255 C584.2 256.2 587.1 261.7 585 263.8 C582.9 265.8 571.7 268.8 567.5 267.5 C563.3 266.2 557.9 258.3 560 256.2Z"/><path fill="#25b5d8" fill-opacity="0.6" d="M520 200 C522.9 196.2 534.2 192.5 537.5 195 C540.8 197.5 541.7 210 540 215 C538.3 220 530.8 224.6 527.5 225 C524.2 225.4 521.2 221.7 520 217.5 C518.8 213.3 517.1 203.8 520 200Z"/><path fill="#84f748" fill-opacity="0.8" d="M630 217.5 C633.3 212.9 643.3 211.7 650 212.5 C656.7 213.3 667.5 217.1 670 222.5 C672.5 227.9 669.2 240.4 665 245 C660.8 249.6 650.8 250.8 645 250 C639.2 249.2 632.5 245.4 630 240 C627.5 234.6 626.7 222.1 630 217.5Z"/><path fill="#84f748" fill-opacity="0.6" d="M550 177.5 C550 175 561.7 169.6 570 167.5 C578.3 165.4 592.5 166.2 600 165 C607.5 163.8 611.7 159.2 615 160 C618.3 160.8 623.3 167.1 620 170 C616.7 172.9 603.3 175.4 595 177.5 C586.7 179.6 577.5 182.5 570 182.5 C562.5 182.5 550 180 550 177.5Z"/></g>
<g filter="url(#b2)"><path fill="#84f748" d="M490 275 C497.1 270.8 515 270 530 270 C545 270 563.3 274.2 580 275 C596.7 275.8 615 275.8 630 275 C645 274.2 662.9 265.8 670 270 C677.1 274.2 675 291.7 672.5 300 C670 308.3 666.2 318.3 655 320 C643.8 321.7 621.7 312.5 605 310 C588.3 307.5 571.7 305 555 305 C538.3 305 516.2 311.7 505 310 C493.8 308.3 490 300.8 487.5 295 C485 289.2 482.9 279.2 490 275Z"/><path fill="#84f748" fill-opacity="0.8" d="M480 207.5 C484.6 196.9 502.5 202.1 507.5 206.2 C512.5 210.4 510.4 223.5 510 232.5 C509.6 241.5 508.3 252.9 505 260 C501.7 267.1 494.2 273.3 490 275 C485.8 276.7 481.7 281.2 480 270 C478.3 258.8 475.4 218.1 480 207.5Z"/></g>
<g filter="url(#b3)"><path fill="#3a8ff7" fill-opacity="0.8" d="M503.8 167.5 C506.7 164.2 518.5 163.3 522.5 165 C526.5 166.7 527.9 173.8 527.5 177.5 C527.1 181.2 523.8 186.2 520 187.5 C516.2 188.8 507.7 188.3 505 185 C502.3 181.7 500.8 170.8 503.8 167.5Z"/></g>
<g filter="url(#b2)"><path fill="#25b5d8" fill-opacity="0.8" d="M630 150 C636.7 147.5 662.5 147.5 670 150 C677.5 152.5 675.8 160.4 675 165 C674.2 169.6 670 175.8 665 177.5 C660 179.2 650.8 177.1 645 175 C639.2 172.9 632.5 169.2 630 165 C627.5 160.8 623.3 152.5 630 150Z"/><path fill="#24d9b0" d="M695 192.5 C699.6 189.6 713.2 188.8 720 190 C726.8 191.2 733.3 194.2 736 200 C738.7 205.8 739.5 220 736 225 C732.5 230 721 230 715 230 C709 230 703.8 228.8 700 225 C696.2 221.2 693.3 212.9 692.5 207.5 C691.7 202.1 690.4 195.4 695 192.5Z"/></g>
<g filter="url(#b3)"><path fill="#45ee80" d="M700 197.5 C702.9 193.8 715 192.9 720 195 C725 197.1 730.8 205 730 210 C729.2 215 719.6 223.8 715 225 C710.4 226.2 705 222.1 702.5 217.5 C700 212.9 697.1 201.2 700 197.5Z"/></g>
<g filter="url(#b2)"><path fill="#25b5d8" d="M685 182.5 C688.8 184.2 700 191.7 702.5 197.5 C705 203.3 702.1 211.2 700 217.5 C697.9 223.8 692.9 228.8 690 235 C687.1 241.2 685 248.3 682.5 255 C680 261.7 678.8 270 675 275 C671.2 280 663.8 285.8 660 285 C656.2 284.2 652.1 276.7 652.5 270 C652.9 263.3 659.6 252.5 662.5 245 C665.4 237.5 667.5 231.7 670 225 C672.5 218.3 675.8 211.2 677.5 205 C679.2 198.8 678.8 191.2 680 187.5 C681.2 183.8 681.2 180.8 685 182.5Z"/><path fill="#3a8ff7" d="M687.5 187.5 C690.1 189 697.5 195.4 698.8 200 C700 204.6 697.3 209.6 695 215 C692.7 220.4 687.9 226.7 685 232.5 C682.1 238.3 680 243.8 677.5 250 C675 256.2 672.7 265.2 670 270 C667.3 274.8 663.3 279.2 661.2 278.8 C659.2 278.3 656.7 273.1 657.5 267.5 C658.3 261.9 663.5 252.1 666.2 245 C669 237.9 671.2 231.7 673.8 225 C676.2 218.3 679.7 210.6 681.2 205 C682.8 199.4 682 194.2 683 191.2 C684 188.3 684.9 186 687.5 187.5Z"/></g>
<g filter="url(#b3)"><path fill="#4166dd" fill-opacity="0.85" d="M680 217.5 C682.5 214.4 688.8 211.2 690 213.8 C691.2 216.2 689.6 226.5 687.5 232.5 C685.4 238.5 680.4 246.7 677.5 250 C674.6 253.3 670.4 255.4 670 252.5 C669.6 249.6 673.3 238.3 675 232.5 C676.7 226.7 677.5 220.6 680 217.5Z"/><ellipse fill="#2a1535" cx="674" cy="245" rx="2" ry="2.5"/><path fill="none" stroke="#ffffff" stroke-width="3.2" stroke-linecap="round" stroke-linejoin="round" d="M695.5 211.2 C694.6 212.2 691.8 215.1 690 217 C688.2 218.9 685.4 221.6 684.5 222.5"/><path fill="none" stroke="#ffffff" stroke-width="2.6" stroke-linecap="round" stroke-linejoin="round" d="M680 235.5 L676.2 242"/><path fill="none" stroke="#ffffff" stroke-width="3" stroke-linecap="round" stroke-linejoin="round" d="M673 252 C672.4 253.1 670.5 256.5 669.5 258.8 C668.5 261 667.4 264.4 667 265.5"/><path fill="none" stroke="#ffffff" stroke-width="2.6" stroke-linecap="round" stroke-linejoin="round" d="M671.2 276.2 C671.5 278.5 671.8 285.2 672.5 290 C673.2 294.8 674.2 300 675.5 305 C676.8 310 678 315.2 680 320 C682 324.8 686.2 331.5 687.5 333.8"/></g>
<g filter="url(#b2)"><path fill="#25b5d8" d="M356.7 83.6 C358.5 81.5 369.3 80.1 376.1 81.5 C382.9 82.9 389.7 89 397.6 92.2 C405.4 95.4 415.1 99 423.3 100.8 C431.6 102.6 443 99 447 103 C450.9 106.9 450.9 119.8 447 124.4 C443 129.1 430.9 127.3 423.3 130.9 C415.8 134.5 407.6 142 401.9 145.9 C396.1 149.9 394 152.7 389 154.5 C384 156.3 377.2 156 371.8 156.7 C366.4 157.4 359.6 163.1 356.7 158.8 C353.9 154.5 353.5 138.4 354.6 130.9 C355.7 123.4 361.4 119.8 363.2 113.7 C365 107.6 366.4 99.4 365.3 94.4 C364.3 89.4 355 85.8 356.7 83.6Z"/><path fill="#24d9b0" fill-opacity="0.9" d="M369.6 105.1 C372.9 103 379.7 101.5 384.7 103 C389.7 104.4 396.8 109.1 399.7 113.7 C402.6 118.4 402.2 125.5 401.9 130.9 C401.5 136.3 400.4 142.3 397.6 145.9 C394.7 149.5 389.3 150.9 384.7 152.4 C380 153.8 373.9 154.9 369.6 154.5 C365.3 154.2 360.7 154.2 358.9 150.2 C357.1 146.3 357.8 136.6 358.9 130.9 C360 125.2 363.5 120.2 365.3 115.9 C367.1 111.6 366.4 107.3 369.6 105.1Z"/></g>
<g filter="url(#b3)"><path fill="#24d9b0" fill-opacity="0.85" d="M406.2 106.2 C408.7 102.6 417.6 102.4 423.3 103 C429.1 103.5 438 105.8 440.5 109.4 C443 113 441.2 121.2 438.4 124.4 C435.5 127.7 428.4 128.7 423.3 128.7 C418.3 128.7 411.2 128.2 408.3 124.4 C405.4 120.7 403.6 109.8 406.2 106.2Z"/><path fill="#45ee80" fill-opacity="0.5" d="M414.7 111.6 C416.5 109.6 426.9 109.1 429.8 110.5 C432.6 111.9 433.7 118.2 431.9 120.2 C430.1 122.1 421.9 123.7 419 122.3 C416.2 120.9 413 113.5 414.7 111.6Z"/><path fill="#3a8ff7" fill-opacity="0.85" d="M365.3 87.9 C366.1 86.1 370.7 87.6 373.9 90.1 C377.2 92.6 381.1 97.6 384.7 103 C388.3 108.3 391.8 118 395.4 122.3 C399 126.6 405.1 126.6 406.2 128.7 C407.2 130.9 404.4 134.8 401.9 135.2 C399.4 135.5 394.7 134.5 391.1 130.9 C387.5 127.3 384 118.7 380.4 113.7 C376.8 108.7 372.1 105.1 369.6 100.8 C367.1 96.5 364.6 89.7 365.3 87.9Z"/><path fill="#3a8ff7" fill-opacity="0.8" d="M401.9 133 C404.7 129.8 416.2 132 423.3 130.9 C430.5 129.8 440.9 124.1 444.8 126.6 C448.8 129.1 450.6 141.3 447 145.9 C443.4 150.6 430.1 153.8 423.3 154.5 C416.5 155.2 409.7 153.8 406.2 150.2 C402.6 146.6 399 136.3 401.9 133Z"/></g>
<g filter="url(#b2)"><path fill="#24d9b0" d="M335.3 103 C337.4 97.2 345.6 91.9 350.3 90.1 C355 88.3 360.3 88.6 363.2 92.2 C366.1 95.8 368.2 106.2 367.5 111.6 C366.8 116.9 362.5 121.2 358.9 124.4 C355.3 127.7 349.6 130.9 346 130.9 C342.4 130.9 339.2 129.1 337.4 124.4 C335.6 119.8 333.1 108.7 335.3 103Z"/></g>
<g filter="url(#b3)"><path fill="#45ee80" fill-opacity="0.6" d="M341.7 103 C343.5 99.7 349.2 96.5 352.4 96.5 C355.7 96.5 360 99.4 361 103 C362.1 106.5 361 114.4 358.9 118 C356.7 121.6 351 124.8 348.2 124.4 C345.3 124.1 342.8 119.4 341.7 115.9 C340.6 112.3 339.9 106.2 341.7 103Z"/><path fill="#4166dd" fill-opacity="0.9" d="M341.7 135.2 C342.8 130.7 347.4 131.6 350.3 132 C353.2 132.3 357.5 133.2 358.9 137.3 C360.3 141.5 361.4 153.1 358.9 156.7 C356.4 160.3 346.7 162.4 343.9 158.8 C341 155.2 340.6 139.7 341.7 135.2Z"/><path fill="#3c3c99" fill-opacity="0.8" d="M344.9 143.8 C346.2 141.5 352.6 139.8 354.6 141.6 C356.6 143.4 358 152.2 356.7 154.5 C355.5 156.8 349 157.4 347.1 155.6 C345.1 153.8 343.7 146.1 344.9 143.8Z"/><ellipse fill="#ffffff" cx="376.7" cy="110.9" rx="1.2" ry="3"/><path fill="#2a1535" d="M820.3 217.4 C821.9 214.2 828.2 213.8 833.2 211 C838.2 208.1 845 203.1 850.4 200.2 C855.7 197.4 862.2 193.4 865.4 193.8 C868.6 194.1 870.8 199.2 869.7 202.4 C868.6 205.6 863.3 209.9 859 213.1 C854.7 216.3 848.6 218.5 843.9 221.7 C839.3 224.9 834.4 231 831 232.4 C827.6 233.9 825.3 232.8 823.5 230.3 C821.7 227.8 818.7 220.6 820.3 217.4Z"/><path fill="#2a1535" fill-opacity="0.9" d="M770.9 180.9 C774.5 178 784.9 177.7 790.2 178.7 C795.6 179.8 801.3 183.4 803.1 187.3 C804.9 191.3 802.4 197.4 801 202.4 C799.5 207.4 797.7 214.2 794.5 217.4 C791.3 220.6 785.2 222.8 781.6 221.7 C778.1 220.6 775.2 215.3 773 211 C770.9 206.7 769.1 200.9 768.7 195.9 C768.4 190.9 767.3 183.8 770.9 180.9Z"/><path fill="#2a1535" d="M730.1 178.7 C732.6 174.4 742.6 173.7 749.4 174.4 C756.2 175.2 767 178.7 770.9 183 C774.8 187.3 772 194.5 773 200.2 C774.1 206 775.9 212.4 777.3 217.4 C778.8 222.4 782.7 225.3 781.6 230.3 C780.6 235.3 773.8 241.5 770.9 247.5 C768 253.4 769.1 262.9 764.4 266 C759.8 269 746.9 270.5 743 266 C739 261.5 740.8 247 740.8 238.9 C740.8 230.8 744 223.9 743 217.4 C741.9 211 736.5 206.7 734.4 200.2 C732.2 193.8 727.6 183 730.1 178.7Z"/><path fill="#4166dd" fill-opacity="0.8" d="M760.2 200.2 C761.8 198.4 768.4 199.5 770.9 202.4 C773.4 205.2 775.9 214.2 775.2 217.4 C774.5 220.6 768.9 222.4 766.6 221.7 C764.3 221 762.3 216.7 761.2 213.1 C760.2 209.5 758.5 202 760.2 200.2Z"/><path fill="#3a8ff7" fill-opacity="0.8" d="M777.3 234.6 C779.1 231 787 228.9 790.2 230.3 C793.4 231.7 796.7 238.9 796.7 243.2 C796.7 247.5 793.1 254.6 790.2 256.1 C787.4 257.5 781.6 255.4 779.5 251.8 C777.3 248.2 775.5 238.2 777.3 234.6Z"/><path fill="none" stroke="#ffffff" stroke-width="2.6" stroke-linecap="round" stroke-linejoin="round" d="M752.2 182 C752.5 183.8 752.7 188.9 753.7 192.7 C754.7 196.5 757.6 202.6 758.4 204.5"/><path fill="none" stroke="#ffffff" stroke-width="1.5" stroke-linecap="round" stroke-linejoin="round" d="M730.1 178.3 L739.7 176.6"/></g>
<g filter="url(#b2)"><path fill="#3a8ff7" d="M754.8 294.3 C759.8 290.6 775.3 288.5 783.2 287.9 C791.1 287.4 800.9 286.9 802.2 291.1 C803.5 295.3 792.5 304.3 791.1 313.2 C789.8 322.2 792.5 336.7 794.3 344.9 C796.2 353 804.1 358 802.2 362.3 C800.4 366.5 790.6 368.3 783.2 370.2 C775.9 372 763.2 376 757.9 373.3 C752.7 370.7 751.6 361.7 751.6 354.3 C751.6 347 757.7 336.4 757.9 329.1 C758.2 321.7 753.7 315.9 753.2 310.1 C752.7 304.3 749.8 298 754.8 294.3Z"/></g>
<g filter="url(#b3)"><path fill="#4166dd" fill-opacity="0.55" d="M764.3 305.3 C767.7 299.5 778.6 299.3 783.2 300.6 C787.9 301.9 790.4 306.9 792.1 313.2 C793.8 319.6 794 331.7 793.4 338.5 C792.7 345.4 791.8 351.7 788 354.3 C784.2 357 774.8 357.5 770.6 354.3 C766.4 351.2 763.7 343.5 762.7 335.4 C761.6 327.2 760.8 311.1 764.3 305.3Z"/><path fill="#25b5d8" fill-opacity="0.8" d="M748.5 357.5 C752.7 355.7 762.2 359.1 770.6 359.1 C779 359.1 793.7 356.7 799.1 357.5 C804.4 358.3 805.5 361.5 802.8 363.8 C800.2 366.2 791.3 369.9 783.2 371.7 C775.2 373.6 761.1 375.2 754.8 374.9 C748.5 374.6 746.4 373.1 745.3 370.2 C744.2 367.3 744.2 359.4 748.5 357.5Z"/><ellipse fill="#ffffff" fill-opacity="0.85" cx="571" cy="508.7" rx="4.7" ry="2.1"/><ellipse fill="#ffffff" fill-opacity="0.85" cx="579.6" cy="512" rx="3" ry="1.7"/><ellipse fill="#ffffff" fill-opacity="0.85" cx="594.6" cy="515.2" rx="3" ry="2.6"/><ellipse fill="#ffffff" fill-opacity="0.85" cx="575.3" cy="557.1" rx="5.6" ry="3"/><ellipse fill="#ffffff" fill-opacity="0.85" cx="549.5" cy="581.8" rx="6.4" ry="2.6"/><ellipse fill="#ffffff" fill-opacity="0.85" cx="534.4" cy="577.5" rx="3" ry="1.7"/><ellipse fill="#ffffff" fill-opacity="0.85" cx="525.9" cy="523.8" rx="3" ry="2.1"/><ellipse fill="#ffffff" fill-opacity="0.85" cx="564.5" cy="530.2" rx="2.1" ry="3.4"/><ellipse fill="#ffffff" fill-opacity="0.85" cx="534.4" cy="560.3" rx="2.6" ry="3.4"/><ellipse fill="#ffffff" fill-opacity="0.85" cx="543" cy="566.7" rx="2.6" ry="2.1"/><ellipse fill="#ffffff" fill-opacity="0.85" cx="566.7" cy="568.9" rx="2.1" ry="3"/></g>
<g filter="url(#b2)"><path fill="#84f748" fill-opacity="0.85" d="M511.4 527.1 C518.9 519.6 552.2 521.4 560.8 527.1 C569.4 532.8 563.3 552.2 563 561.5 C562.6 570.8 561.5 577.6 558.7 583 C555.8 588.3 550.8 592.1 545.8 593.7 C540.8 595.3 533.6 596.2 528.6 592.6 C523.6 589.1 518.6 583.1 515.7 572.2 C512.8 561.3 503.9 534.6 511.4 527.1Z"/></g>
<g filter="url(#b3)"><path fill="#b4ee3a" fill-opacity="0.5" d="M532.9 552.9 C536.5 548.6 550.1 545.7 554.4 548.6 C558.7 551.5 560.1 564.3 558.7 570.1 C557.2 575.8 550.1 582.2 545.8 583 C541.5 583.7 535 579.4 532.9 574.4 C530.7 569.4 529.3 557.2 532.9 552.9Z"/><path fill="#24d9b0" fill-opacity="0.6" d="M520 544.3 C522.1 540 530 537.9 532.9 540 C535.8 542.1 537.9 552.2 537.2 557.2 C536.5 562.2 531.5 568.6 528.6 570.1 C525.7 571.5 521.4 570.1 520 565.8 C518.6 561.5 517.9 548.6 520 544.3Z"/></g>
<g filter="url(#b2)"><path fill="#45ee80" stroke="#45ee80" stroke-width="9" stroke-linejoin="round" d="M529.7 594.1 C530.2 588.2 537.7 596.3 541.5 596.7 C545.2 597.1 546.5 597.1 552.2 596.7 C558 596.3 568.7 593.1 575.9 594.1 C583 595.2 589.5 604.2 595.2 603.2 C600.9 602.2 605.6 592.8 610.2 588.1 C614.9 583.5 618.1 578.8 623.1 575.2 C628.1 571.7 634.6 568.4 640.3 566.6 C646 564.8 651 563.4 657.5 564.5 C663.9 565.6 673.2 570.2 679 573.1 C684.7 575.9 687.9 580.5 691.9 581.7 C695.8 582.8 699.7 579.7 702.6 580 C705.5 580.2 710.1 578.9 709 583 C708 587 701.2 598 696.2 604.4 C691.1 610.9 685.4 616.3 679 621.6 C672.5 627 665.4 632.6 657.5 636.7 C649.6 640.8 640.3 644.5 631.7 646.3 C623.1 648.1 613.8 647.2 605.9 647.4 C598.1 647.6 592 645.7 584.4 647.4 C576.9 649.1 568 657.7 560.8 657.7 C553.7 657.7 545.2 651.6 541.5 647.4 C537.7 643.2 540.2 641.3 538.3 632.4 C536.3 623.5 529.1 600.1 529.7 594.1Z"/><path fill="#24d9b0" stroke="#24d9b0" stroke-width="4.5" stroke-linejoin="round" d="M529.7 594.1 C530.2 588.2 537.7 596.3 541.5 596.7 C545.2 597.1 546.5 597.1 552.2 596.7 C558 596.3 568.7 593.1 575.9 594.1 C583 595.2 589.5 604.2 595.2 603.2 C600.9 602.2 605.6 592.8 610.2 588.1 C614.9 583.5 618.1 578.8 623.1 575.2 C628.1 571.7 634.6 568.4 640.3 566.6 C646 564.8 651 563.4 657.5 564.5 C663.9 565.6 673.2 570.2 679 573.1 C684.7 575.9 687.9 580.5 691.9 581.7 C695.8 582.8 699.7 579.7 702.6 580 C705.5 580.2 710.1 578.9 709 583 C708 587 701.2 598 696.2 604.4 C691.1 610.9 685.4 616.3 679 621.6 C672.5 627 665.4 632.6 657.5 636.7 C649.6 640.8 640.3 644.5 631.7 646.3 C623.1 648.1 613.8 647.2 605.9 647.4 C598.1 647.6 592 645.7 584.4 647.4 C576.9 649.1 568 657.7 560.8 657.7 C553.7 657.7 545.2 651.6 541.5 647.4 C537.7 643.2 540.2 641.3 538.3 632.4 C536.3 623.5 529.1 600.1 529.7 594.1Z"/><path fill="#3a8ff7" d="M529.7 594.1 C530.2 588.2 537.7 596.3 541.5 596.7 C545.2 597.1 546.5 597.1 552.2 596.7 C558 596.3 568.7 593.1 575.9 594.1 C583 595.2 589.5 604.2 595.2 603.2 C600.9 602.2 605.6 592.8 610.2 588.1 C614.9 583.5 618.1 578.8 623.1 575.2 C628.1 571.7 634.6 568.4 640.3 566.6 C646 564.8 651 563.4 657.5 564.5 C663.9 565.6 673.2 570.2 679 573.1 C684.7 575.9 687.9 580.5 691.9 581.7 C695.8 582.8 699.7 579.7 702.6 580 C705.5 580.2 710.1 578.9 709 583 C708 587 701.2 598 696.2 604.4 C691.1 610.9 685.4 616.3 679 621.6 C672.5 627 665.4 632.6 657.5 636.7 C649.6 640.8 640.3 644.5 631.7 646.3 C623.1 648.1 613.8 647.2 605.9 647.4 C598.1 647.6 592 645.7 584.4 647.4 C576.9 649.1 568 657.7 560.8 657.7 C553.7 657.7 545.2 651.6 541.5 647.4 C537.7 643.2 540.2 641.3 538.3 632.4 C536.3 623.5 529.1 600.1 529.7 594.1Z"/></g>
<g filter="url(#b3)"><path fill="#24d9b0" fill-opacity="0.8" d="M528.6 593.7 C530.4 591.3 541.8 594.5 545.8 596.3 C549.7 598.1 552.2 601.7 552.2 604.4 C552.2 607.2 548.6 612 545.8 613 C542.9 614.1 537.9 614.1 535 610.9 C532.2 607.7 526.8 596.1 528.6 593.7Z"/></g>
<g filter="url(#b2)"><path fill="#4166dd" fill-opacity="0.85" d="M605.9 610.9 C608.8 607.3 623.1 605.9 631.7 604.4 C640.3 603 648.9 604.1 657.5 602.3 C666.1 600.5 676.5 594.1 683.3 593.7 C690.1 593.3 699 595.5 698.3 600.2 C697.6 604.8 685.8 615.5 679 621.6 C672.2 627.7 665.4 632.6 657.5 636.7 C649.6 640.8 639.6 644.5 631.7 646.3 C623.8 648.1 615.2 649.4 610.2 647.4 C605.2 645.4 600.9 638.1 601.6 634.5 C602.3 630.9 613.8 629.9 614.5 625.9 C615.2 622 603.1 614.5 605.9 610.9Z"/></g>
<g filter="url(#b3)"><path fill="#4166dd" d="M539.3 630.2 C540.8 628.1 546.1 632.4 550.1 634.5 C554 636.7 559 640.3 563 643.1 C566.9 646 574.1 649.3 573.7 651.7 C573.3 654.1 566.2 658.4 560.8 657.7 C555.4 657 545.1 652 541.5 647.4 C537.9 642.8 537.9 632.4 539.3 630.2Z"/><path fill="#3c3c99" fill-opacity="0.8" d="M552.2 649.6 C554 648.7 564.2 649.4 566.2 650.6 C568.2 651.9 565.8 656.2 564 657.1 C562.2 658 557.4 657.3 555.4 656 C553.5 654.8 550.4 650.5 552.2 649.6Z"/><path fill="#3c3c99" d="M646.7 596.3 C648.5 592.6 658.5 584.9 662.9 584 C667.2 583.2 672.1 588.6 673 591.1 C673.8 593.6 670.6 596.4 668.2 599.1 C665.8 601.7 661.2 605.8 658.6 607 C655.9 608.2 654.1 608 652.1 606.2 C650.1 604.4 645 600 646.7 596.3Z"/><path fill="#3c3c99" fill-opacity="0.85" d="M647.8 608.7 C649.3 607.6 655.9 607.2 657.5 608.3 C659.1 609.4 658.9 614 657.5 615.2 C656.1 616.3 650.5 616.3 648.9 615.2 C647.3 614.1 646.4 609.9 647.8 608.7Z"/><path fill="#3c3c99" fill-opacity="0.35" d="M636 623.8 C638 622.3 645.3 621.3 648.9 621.6 C652.5 622 657.5 624.1 657.5 625.9 C657.5 627.7 652.3 631.7 648.9 632.4 C645.5 633.1 639.2 631.7 637.1 630.2 C634.9 628.8 634 625.2 636 623.8Z"/><path fill="#24d9b0" d="M545.8 627 C546.9 625.9 553.7 626.6 558.7 628.1 C563.7 629.5 570.1 634.1 575.9 635.6 C581.6 637.1 588 636.9 593 637.1 C598.1 637.3 604.1 636.1 605.9 636.7 C607.7 637.2 607.4 639.8 603.8 640.5 C600.2 641.3 590.5 641.2 584.4 641 C578.4 640.8 572.6 640.3 567.3 639.2 C561.9 638.2 555.8 636.6 552.2 634.5 C548.6 632.5 544.7 628.1 545.8 627Z"/><path fill="#45ee80" fill-opacity="0.8" d="M550.1 629.2 C551.5 628.9 558 630.6 563 631.9 C568 633.3 575.1 636 580.2 637.1 C585.2 638.2 592.3 638 593 638.4 C593.8 638.8 588.7 639.8 584.4 639.7 C580.2 639.6 572.3 638.8 567.3 637.7 C562.2 636.7 557.2 634.9 554.4 633.4 C551.5 632 548.6 629.4 550.1 629.2Z"/><path fill="#24d9b0" fill-opacity="0.7" d="M704.7 576.5 C705.5 572.9 711.7 563.3 713.3 563.6 C715 564 715.1 575.1 714.4 578.7 C713.7 582.2 710.7 585.5 709 585.1 C707.4 584.8 704 580.1 704.7 576.5Z"/><path fill="#ffffff" d="M538.3 531.4 C541.8 528.2 555.1 527.8 558.7 531.4 C562.3 535 560.7 547.4 560 552.9 C559.2 558.3 557 562.6 554.4 564.1 C551.7 565.5 546.9 563.7 544.1 561.5 C541.3 559.3 538.6 555.8 537.6 550.7 C536.6 545.7 534.8 534.6 538.3 531.4Z"/><ellipse fill="#ffffff" fill-opacity="0.9" cx="569.4" cy="555" rx="4.3" ry="3"/><ellipse fill="#ffffff" fill-opacity="0.9" cx="576.3" cy="564.1" rx="3.4" ry="2.6"/><ellipse fill="#ffffff" fill-opacity="0.9" cx="565.5" cy="572.2" rx="3.9" ry="2.6"/><ellipse fill="#ffffff" fill-opacity="0.9" cx="574.1" cy="580.8" rx="3" ry="2.6"/><ellipse fill="#ffffff" fill-opacity="0.9" cx="578.4" cy="591.1" rx="2.6" ry="2.1"/><ellipse fill="#ffffff" fill-opacity="0.9" cx="545.8" cy="583" rx="4.7" ry="2.1"/><ellipse fill="#ffffff" fill-opacity="0.9" cx="552.7" cy="588.3" rx="3.4" ry="1.7"/><ellipse fill="#ffffff" fill-opacity="0.9" cx="523.9" cy="581.9" rx="3" ry="3.4"/><ellipse fill="#ffffff" fill-opacity="0.9" cx="544.1" cy="593.7" rx="2.6" ry="1.7"/><ellipse fill="#ffffff" fill-opacity="0.9" cx="532.9" cy="567.9" rx="2.6" ry="2.1"/><ellipse fill="#ffffff" fill-opacity="0.9" cx="566.2" cy="546.4" rx="2.1" ry="3.4"/><ellipse fill="#ffffff" fill-opacity="0.9" cx="584.4" cy="559.3" rx="2.1" ry="1.7"/><ellipse fill="#ffffff" fill-opacity="0.9" cx="563" cy="561.5" rx="1.7" ry="3"/></g>
<g filter="url(#b2)"><path fill="#4166dd" fill-opacity="0.55" d="M572.9 67.9 C578.3 64 593.3 63.6 603 63.6 C612.6 63.6 623.7 64.7 630.9 67.9 C638.1 71.1 637.7 80.5 645.9 83 C654.2 85.5 669.6 84 680.3 83 C691 81.9 705.4 74.7 710.4 76.5 C715.4 78.3 715.4 89.4 710.4 93.7 C705.4 98 691 101.2 680.3 102.3 C669.6 103.4 656.7 99.8 645.9 100.2 C635.2 100.5 625.9 104.4 615.9 104.4 C605.8 104.4 593.3 103 585.8 100.2 C578.3 97.3 572.9 92.6 570.7 87.3 C568.6 81.9 567.5 71.9 572.9 67.9Z"/></g>
<g filter="url(#b3)"><path fill="#3c3c99" fill-opacity="0.8" d="M607.7 64.7 C609.8 62.9 617.6 63.5 620.2 65.8 C622.7 68.1 623.8 75.8 622.7 78.7 C621.7 81.5 616.3 83.3 613.7 83 C611.1 82.6 608.3 79.6 607.3 76.5 C606.3 73.5 605.5 66.5 607.7 64.7Z"/><path fill="#3c3c99" fill-opacity="0.7" d="M566.4 89.4 C569.7 85.6 579.9 84 583.6 86.2 C587.4 88.3 590.1 98 589 102.3 C587.9 106.6 581.3 110.9 577.2 112 C573.1 113 566.1 112.5 564.3 108.7 C562.5 105 563.2 93.2 566.4 89.4Z"/><path fill="#3c3c99" fill-opacity="0.5" d="M630.9 83 C633.8 81.7 647.7 83.3 650.2 85.1 C652.7 86.9 648.8 92.5 645.9 93.7 C643.1 95 635.5 94.4 633 92.6 C630.5 90.8 628 84.2 630.9 83Z"/><path fill="#f5b540" d="M693 372 C697.7 369.7 716.8 371.7 722 376 C727.2 380.3 725.3 395.2 724 398 C722.7 400.8 717.7 392.8 714 393 C710.3 393.2 705.3 399.5 702 399 C698.7 398.5 695.5 394.5 694 390 C692.5 385.5 688.3 374.3 693 372Z"/><path fill="#f88a30" fill-opacity="0.8" d="M716 382 C717.3 380 722 380.7 724 384 C726 387.3 728.3 398 728 402 C727.7 406 724 409 722 408 C720 407 717 400.3 716 396 C715 391.7 714.7 384 716 382Z"/><path fill="#3a8ff7" fill-opacity="0.9" d="M735 404 C735 400.3 739.8 399.7 742 402 C744.2 404.3 746.8 414 748 418 C749.2 422 750 425 749 426 C748 427 744.3 427.7 742 424 C739.7 420.3 735 407.7 735 404Z"/><path fill="#24d9b0" fill-opacity="0.7" d="M718 490.3 C719.5 486.2 726.5 483.3 730.3 483.3 C734.1 483.3 738.4 486.8 740.8 490.3 C743.3 493.8 744.4 499.1 745.2 504.4 C746.1 509.6 747.1 517.2 746.1 521.9 C745.1 526.6 742.3 530.1 739.1 532.5 C735.9 534.8 730 537.2 726.8 536 C723.6 534.8 720.6 530.1 719.8 525.4 C718.9 520.8 721.8 513.7 721.5 507.9 C721.2 502 716.5 494.4 718 490.3Z"/><path fill="#45ee80" fill-opacity="0.6" d="M730.3 486.8 C731.5 485 736.7 485.9 739.1 488.5 C741.4 491.2 743.3 497.6 744.4 502.6 C745.4 507.6 746.1 514.3 745.2 518.4 C744.4 522.5 741 527.8 739.1 527.2 C737.2 526.6 735 519.6 733.8 514.9 C732.6 510.2 732.6 503.8 732.1 499.1 C731.5 494.4 729.1 488.5 730.3 486.8Z"/></g>
</g>
<rect x="100" y="40" width="840" height="630" fill="url(#grid)" style="mix-blend-mode:color-burn"/>
<g><path fill="#2a1535" d="M660.8 502 C661.8 501 665.8 500.2 669.5 499.5 C673.2 498.8 680.7 497.4 683.2 497.5 C685.8 497.6 686.5 498.8 685 500 C683.5 501.2 678.1 504 674.5 505 C670.9 506 665.5 506.2 663.2 505.8 C661 505.2 659.7 503 660.8 502Z"/><path fill="none" stroke="#33246a" stroke-width="3" stroke-linecap="round" stroke-linejoin="round" d="M689.5 499.5 C690.5 501.2 694.1 505.8 695.8 509.5 C697.4 513.2 698.2 516.6 699.5 522 C700.8 527.4 702.2 536.2 703.2 542 C704.3 547.8 705.5 554.5 706 557"/><path fill="none" stroke="#3c3c99" stroke-width="2.5" stroke-linecap="round" stroke-linejoin="round" d="M689.5 499.5 C691.2 498.7 696.4 496.2 699.5 494.5 C702.6 492.8 706.8 490.3 708.2 489.5"/><path fill="#ffffff" d="M702 248.5 L712.2 238.2 L726.5 235.8 L727.8 248 L722 257.5 L716.8 264.8 L705 266 L701.2 258Z"/><path fill="none" stroke="#ffffff" stroke-width="4" stroke-linecap="round" stroke-linejoin="round" d="M727.6 351 C728.2 352.8 730.4 358.1 731.5 362 C732.6 365.9 733.8 370.4 734 374.4 C734.2 378.4 733.2 382.4 733 386 C732.8 389.6 732.2 392.7 733 396 C733.8 399.3 736.8 404.3 737.5 406"/><path fill="none" stroke="#ffffff" stroke-width="2.6" stroke-linecap="round" stroke-linejoin="round" d="M700 327.5 C701.2 328.4 704.7 331.2 707 333 C709.3 334.8 712.8 337.6 714 338.5"/><path fill="none" stroke="#ffffff" stroke-width="3" stroke-linecap="round" stroke-linejoin="round" d="M663.5 341 C663.9 341.8 665.3 344.5 666 346 C666.7 347.5 667.2 349.3 667.5 350"/><path fill="none" stroke="#ffffff" stroke-width="2.4" stroke-linecap="round" stroke-linejoin="round" d="M676.5 369 L679 374"/><path fill="none" stroke="#ffffff" stroke-width="4.6" stroke-linecap="round" stroke-linejoin="round" d="M672.5 300 C672.9 302 673.8 308.3 675 312 C676.2 315.7 677.9 318.3 680 322 C682.1 325.7 686.2 332 687.5 334"/><path fill="none" stroke="#ffffff" stroke-width="4.4" stroke-linecap="round" stroke-linejoin="round" d="M671.5 277 C671.6 279.2 671.8 286.2 672 290 C672.2 293.8 672.4 298.3 672.5 300"/><path fill="none" stroke="#ffffff" stroke-width="3.4" stroke-linecap="round" stroke-linejoin="round" d="M751.5 181.5 C751.7 182.9 751.9 187.2 752.5 190 C753.1 192.8 753.9 195.3 755 198 C756.1 200.7 758.3 204.7 759 206"/><path fill="none" stroke="#ffffff" stroke-width="4.2" stroke-linecap="round" stroke-linejoin="round" d="M697 211.8 C696.1 212.7 693.2 215.2 691.5 217 C689.8 218.8 687.3 221.4 686.5 222.3"/><path fill="none" stroke="#ffffff" stroke-width="3" stroke-linecap="round" stroke-linejoin="round" d="M673.5 239 L677 243"/><path fill="none" stroke="#ffffff" stroke-width="3.2" stroke-linecap="round" stroke-linejoin="round" d="M673.5 253 C672.8 254.2 670.2 257.8 669 260 C667.8 262.2 666.5 265 666 266"/><path fill="none" stroke="#ffffff" stroke-width="1.4" stroke-linecap="round" stroke-linejoin="round" d="M710 216 C711 216.2 714 216.9 716 217.5 C718 218.1 721 219.2 722 219.5"/><path fill="#ffffff" d="M702 244.7 L708 237.1 L720.3 234.3 L727.5 235 L727.5 248.6 L720.7 257.9 L715.4 265.3 L702.7 266 L700.4 257.9 L701.3 249.1Z"/></g>
</g>
<g fill="none" stroke="#a4a4a4" stroke-width="1.25" stroke-linejoin="round"><path d="M125 40 L122.5 46 L112.5 58 L121 72.5"/><path d="M461 439.5 L465 419.5 L472.5 399.5 L487.5 382 L482.5 362.5 L476 347.5 L480 340 L475 325 L467.5 305 L455 285 L437.5 265 L427.5 247.5 L433.8 225 L437.5 212.5 L440 205 L438.5 195 L428.5 187.5 L421 180 L406 181 L393.5 184 L383.5 170 L376 160 L356 160 L340 161 L325 165 L312.5 174 L297.5 179 L280 174 L260 174 L242.5 179 L230 183 L215 175 L200 164 L185 152.5 L170 140 L162.5 126 L147.5 111 L132.5 95 L122.5 82.5 L121 72.5 L112.5 58"/><path d="M461 439.5 L463.8 454.5 L475 469.5 L485 487 L493.8 504.5 L495 524.5 L500 552 L502.5 555 L511 572.5 L520 582.5 L527.5 597.5"/><path d="M755.8 462 L739.5 477 L737 487 L745.8 504.5 L747 524.5 L737 534.5 L725 540 L712.5 547.5 L715 555 L711 567.5 L705 582.5 L692.5 600 L680 615 L665 628.8 L650 638.8 L630 646 L615 646 L597.5 646 L580 648.8 L566 653.8 L560 657.5 L550 653.8 L541 647.5 L538.8 632.5 L540 622.5 L536 615 L527.5 597.5"/><path d="M755.8 462 L774.5 447 L797 434.5 L808 413"/><path d="M924.2 128.8 L918 140 L908 160 L898 180 L885.5 195 L868 210 L849.5 222.5 L832 237.5 L819.5 255 L804.5 267.5 L797 285 L787 305 L792 325 L792 345 L802 360 L805.8 382 L808 413"/><path d="M924.2 128.8 L931.8 110 L933 92.5 L928 90.8 L905.5 98.8"/><path d="M838 98.8 L850.5 108.8 L868 107 L885.5 103.8 L905.5 100"/><path d="M838 98.8 L840.5 87.5 L835.5 83.8 L825.5 77.5 L813 65 L800.5 52.5 L790.5 40"/><path d="M905.5 100 L906.8 122.5"/><path d="M157.5 40 L177.5 58.8 L180 67.5 L186 85 L197.5 90 L212.5 87.5 L220 100 L225 112.5 L240 112.5 L257.5 111 L260 97.5 L270 80 L275 75 L295 62.5 L312.5 53.8 L325 57.5 L327.5 67.5 L335 81 L356 81 L366 80"/><path d="M177.5 58.8 L182.5 51.2 L207.5 50 L210 47.5 L257.5 47 L258.8 40"/><path d="M325 57.5 L356 50 L366 47.5 L367 40"/><path d="M366 102.5 L367 82.5 L371 71 L388.5 68.8 L406 77.5 L416 75 L431 80 L451 75 L466 75 L481 71 L488.5 82.5 L495 90 L495 98.8"/><path d="M496 40 L486 50 L485 62.5 L492 75 L492 81 L500 90 L501 105 L506 115"/><path d="M608.5 40 L606 47.5 L596 48.8 L590 65 L587 72.5 L585 82.5 L591 92.5 L596 102.5 L602 122.5 L612 132.5"/><path d="M501 105 L486 102.5 L478.5 122.5 L471 135 L463.5 147.5 L443.5 153.8 L431 160 L424.8 177.5 L428.5 187.5"/><path d="M506 115 L503.5 125 L506 142.5 L496 162.5 L494.8 177.5 L503.5 192.5 L511 205 L513.5 212.5"/><path d="M506 142.5 L521 142.5 L541 135 L548.5 127.5 L571 122.5 L586 105 L593.5 100"/><path d="M513.5 212.5 L526 192.5 L541 190 L546 180 L556 176 L573.5 180 L591 187.5 L593.5 180 L612 175 L627 175 L639.5 170 L649.5 175"/><path d="M440 210 L456 208.8 L476 210 L491 210 L513.5 212.5"/><path d="M541 190 L537 205 L536 222 L535 225 L532.5 245 L517.5 257.5 L512.5 275 L500 292.5 L496 296 L487.5 291 L475 295 L467.5 296 L471 307.5"/><path d="M121 80 L140 74 L157 72 L156 78 L140 80 L124 84"/><path d="M124 88 L158 86 L160 95 L150 100 L146 108"/><path d="M160 95 L172 88 L186 85"/><path d="M170 128 L180 116 L192 118 L196 132 L205 134 L212 146 L222 140 L228 130 L225 112.5"/><path d="M186 152 L196 135"/><path d="M212 146 L218 158 L230 166 L232 183"/><path d="M290 175 L285 150 L288 120 L287 104 L296 102 L320 102 L330 100 L340 98 L348 90 L348 82"/><path d="M257.5 111 L270 112 L287 104"/><path d="M320 102 L326 120 L330 145 L333 163"/><path d="M330 100 L338 118 L342 140 L343 161"/><path d="M612 125 L622 112.5 L632 111 L642 120 L662 120 L677 113.8 L697 117.5 L709.5 102.5 L707 90 L717 88.8 L719.5 102.5 L727 112.5 L728 127.5 L717 140 L734.5 155 L742 170"/><path d="M759.5 40 L755.8 65 L752 82.5 L737 102.5 L729.5 112.5"/><path d="M759.5 62.5 L774.5 57.5 L787 58.8 L802 62.5 L812 72.5 L824.5 90 L832 100 L838 98.8"/><path d="M612 135 L622 140 L637 160 L649.5 175 L667 182.5 L677 181 L692 192.5 L707 190 L722 187.5 L729.5 182.5 L742 170"/><path d="M742 170 L752 182.5 L772 185 L792 192.5 L807 185 L819.5 190 L832 182.5 L843 176 L858 175 L893 140 L905.5 122.5"/><path d="M835.5 110 L843 125 L883 140 L893 140"/><path d="M819.5 190 L812 202.5 L812 242.5 L818 255"/><path d="M692 192.5 L689.5 210 L682 225 L674.5 240 L674.5 253.8"/><path d="M729.5 182.5 L737 200 L739.5 215 L729.5 230 L727.5 247.5"/><path d="M674.5 253.8 L687 248.8 L702 248 L728 248 L752 262.5 L772 275 L777 285 L789.5 292.5"/><path d="M674.5 253.8 L689.5 255 L687 265 L679.5 265 L682 275 L672 287.5 L669.5 272.5 L670.8 257.5 L674.5 253.8"/><path d="M670.8 275 L672 300 L679.5 317.5 L687 336 L694.5 342.5 L712 347.5 L719.5 350 L722 365 L719.5 382 L720.8 385 L713.2 400.8 L715.8 405.8"/><path d="M719.5 350 L729.5 355 L734.5 370 L735.8 382 L734.5 397 L742 412 L749.5 424.5 L748.2 429.5 L740.8 439.5 L732 429.5 L733.2 415.8 L727 412 L715.8 405.8"/><path d="M735.8 375 L752 372.5 L774.5 370 L797 365 L804.5 362.5"/><path d="M702 247.5 L712 237.5 L727 235 L728 247.5 L722 257.5 L717 265 L704.5 266 L700.8 257.5 L702 247.5"/><path d="M470 310 L517.5 308 L530 332.5 L550 331 L555 322.5 L565 321 L567.5 324 L581 324 L585 350 L587.5 370 L608.8 370 L610 382 L607.5 392 L585 392 L583.8 427 L597.5 447"/><path d="M608.8 370 L617.5 372.5 L635 380 L645 377.5 L656 380 L662 382 L663 360 L667 340 L687 336"/><path d="M649.5 382 L665.8 394.5 L675.8 395.8 L677 387 L672 382"/><path d="M461 444.5 L470 442 L485 444.5 L540 446 L550 452 L570 453 L595 449.5 L610 445.8 L622.5 448"/><path d="M572.5 453 L572 499.5 L560 501.5 L560 577.5"/><path d="M570 455.8 L600 452 L605 457 L617.5 449.5 L622.5 448"/><path d="M622.5 448 L630.8 459.5 L644.5 482 L653.2 487 L658.2 497 L669.5 504.5 L684.5 505.8 L694.5 499.5"/><path d="M622.5 448 L642 453 L659.5 439.5 L674.5 428 L684.5 425.8 L683.2 414.5 L694.5 413.2 L715.8 405.8"/><path d="M684.5 425.8 L694.5 427 L709.5 434.5 L714.5 442 L713.2 467 L715.8 477 L709.5 489.5 L694.5 499.5 L698.2 517 L704.5 542 L707 557 L706.2 560 L713.8 560"/><path d="M669.5 504.5 L652 514.5 L642 529.5 L632 544.5 L624.5 548.2 L600 542 L585 554.5 L570 562 L566.2 542.5 L560 537.5"/><path d="M520 577.5 L530 585 L545 587.5 L560 577.5"/><path d="M646.2 596.2 L662.5 583.8 L672.5 591.2 L666.2 600 L657.5 607.5 L652.5 606.2 L646.2 596.2"/><path d="M688.8 556.2 L693.8 548.8 L701.2 548.8 L705 557.5 L702.5 566.2 L693.8 566.2 L688.8 556.2"/><path d="M478 208.7 L480.2 218.3 L490.9 220.5 L492 225.9 L487.7 236.6 L494.1 245.2 L494.1 255.9 L488.7 264.5 L480.2 265.6 L472.6 261.3 L471.6 264.5 L460.8 268.8 L463 277.4 L455.4 283.9"/><path d="M457.6 208.7 L457.6 222.6 L435 222.6"/><path d="M466.2 293.5 L469.4 307.5"/></g>
</g>
<rect x="71.2" y="39.6" width="903" height="651.6" fill="none" stroke="#444" stroke-width="1.9"/>
<g><line x1="83.5" y1="692" x2="83.5" y2="695.8" stroke="#444" stroke-width="1.5"/><text x="82.5" y="713.8" font-size="14" fill="#4d4d4d" text-anchor="middle">20°W</text><line x1="202.7" y1="692" x2="202.7" y2="695.8" stroke="#444" stroke-width="1.5"/><text x="207.5" y="713.8" font-size="14" fill="#4d4d4d" text-anchor="middle">10°W</text><line x1="322.5" y1="692" x2="322.5" y2="695.8" stroke="#444" stroke-width="1.5"/><text x="324" y="713.8" font-size="14" fill="#4d4d4d" text-anchor="middle">0°</text><line x1="441.5" y1="692" x2="441.5" y2="695.8" stroke="#444" stroke-width="1.5"/><text x="440.75" y="713.8" font-size="14" fill="#4d4d4d" text-anchor="middle">10°E</text><line x1="560.8" y1="692" x2="560.8" y2="695.8" stroke="#444" stroke-width="1.5"/><text x="558" y="713.8" font-size="14" fill="#4d4d4d" text-anchor="middle">20°E</text><line x1="680" y1="692" x2="680" y2="695.8" stroke="#444" stroke-width="1.5"/><text x="677.5" y="713.8" font-size="14" fill="#4d4d4d" text-anchor="middle">30°E</text><line x1="799.2" y1="692" x2="799.2" y2="695.8" stroke="#444" stroke-width="1.5"/><text x="797.25" y="713.8" font-size="14" fill="#4d4d4d" text-anchor="middle">40°E</text><line x1="918.4" y1="692" x2="918.4" y2="695.8" stroke="#444" stroke-width="1.5"/><text x="917" y="713.8" font-size="14" fill="#4d4d4d" text-anchor="middle">50°E</text><line x1="66.4" y1="116" x2="70.3" y2="116" stroke="#444" stroke-width="1.5"/><text x="58.5" y="121.2" font-size="14.3" fill="#4d4d4d" text-anchor="end">10°N</text><line x1="66.4" y1="237" x2="70.3" y2="237" stroke="#444" stroke-width="1.5"/><text x="58.5" y="242.2" font-size="14.3" fill="#4d4d4d" text-anchor="end">0°</text><line x1="66.4" y1="358" x2="70.3" y2="358" stroke="#444" stroke-width="1.5"/><text x="58.5" y="363.2" font-size="14.3" fill="#4d4d4d" text-anchor="end">10°S</text><line x1="66.4" y1="479" x2="70.3" y2="479" stroke="#444" stroke-width="1.5"/><text x="58.5" y="484.2" font-size="14.3" fill="#4d4d4d" text-anchor="end">20°S</text><line x1="66.4" y1="600" x2="70.3" y2="600" stroke="#444" stroke-width="1.5"/><text x="58.5" y="605.2" font-size="14.3" fill="#4d4d4d" text-anchor="end">30°S</text></g>
<g><rect x="117" y="233" width="34" height="27.9" fill="#2a1535"/><rect x="117" y="260.6" width="34" height="27.9" fill="#3c3c99"/><rect x="117" y="288.2" width="34" height="27.9" fill="#4166dd"/><rect x="117" y="315.9" width="34" height="27.9" fill="#3a8ff7"/><rect x="117" y="343.5" width="34" height="27.9" fill="#25b5d8"/><rect x="117" y="371.1" width="34" height="27.9" fill="#24d9b0"/><rect x="117" y="398.7" width="34" height="27.9" fill="#45ee80"/><rect x="117" y="426.3" width="34" height="27.9" fill="#84f748"/><rect x="117" y="454" width="34" height="27.9" fill="#b4ee3a"/><rect x="117" y="481.6" width="34" height="27.9" fill="#dcd53c"/><rect x="117" y="509.2" width="34" height="27.9" fill="#f5b540"/><rect x="117" y="536.8" width="34" height="27.9" fill="#f88a30"/><rect x="117" y="564.4" width="34" height="27.9" fill="#e85a25"/><rect x="117" y="592.1" width="34" height="27.9" fill="#cc361c"/><rect x="117" y="619.7" width="34" height="27.9" fill="#a31a14"/><rect x="117" y="647.3" width="34" height="27.9" fill="#6e0c0e"/><text x="160" y="237.5" font-size="15" fill="#111">0.704</text><text x="160" y="265.1" font-size="15" fill="#111">0.709</text><text x="160" y="292.7" font-size="15" fill="#111">0.712</text><text x="160" y="320.4" font-size="15" fill="#111">0.714</text><text x="160" y="348" font-size="15" fill="#111">0.716</text><text x="160" y="375.6" font-size="15" fill="#111">0.718</text><text x="160" y="403.2" font-size="15" fill="#111">0.721</text><text x="160" y="430.8" font-size="15" fill="#111">0.723</text><text x="160" y="458.5" font-size="15" fill="#111">0.726</text><text x="160" y="486.1" font-size="15" fill="#111">0.730</text><text x="160" y="513.7" font-size="15" fill="#111">0.734</text><text x="160" y="541.3" font-size="15" fill="#111">0.739</text><text x="160" y="568.9" font-size="15" fill="#111">0.750</text><text x="160" y="596.6" font-size="15" fill="#111">0.765</text><text x="160" y="624.2" font-size="15" fill="#111">0.790</text><text x="160" y="651.8" font-size="15" fill="#111">0.811</text><text x="160" y="679.4" font-size="15" fill="#111">0.823</text></g>
<text x="112" y="211" font-size="18.5" fill="#111"><tspan font-size="11" dy="-7">87</tspan><tspan dy="7">Sr/</tspan><tspan font-size="11" dy="-7">86</tspan><tspan dy="7">Sr</tspan></text>
<text transform="translate(29.6,37.4) scale(0.94,1)" font-size="35.8" fill="#111" stroke="#111" stroke-width="0.45">a</text>
<g>
<rect x="743.5" y="667.2" width="219" height="12.3" fill="#fff" stroke="#000" stroke-width="1.5"/>
<rect x="742.8" y="666.5" width="111" height="13.7" fill="#000"/>
<text x="852.3" y="658.3" font-size="16.5" fill="#111" text-anchor="middle">2000 km</text>
<circle cx="927.5" cy="642.3" r="19.4" fill="none" stroke="#000" stroke-width="1.7"/>
<path d="M927 617.5 L911.8 661 L927.6 650.5 Z" fill="#fff" stroke="#000" stroke-width="1.5" stroke-linejoin="round"/>
<path d="M927 617.5 L943.4 661 L927.6 650.5 Z" fill="#000" stroke="#000" stroke-width="1.5" stroke-linejoin="round"/>
<text x="927.5" y="612.8" font-size="13.5" fill="#111" text-anchor="middle">N</text>
</g>
</svg>
</body></html>
